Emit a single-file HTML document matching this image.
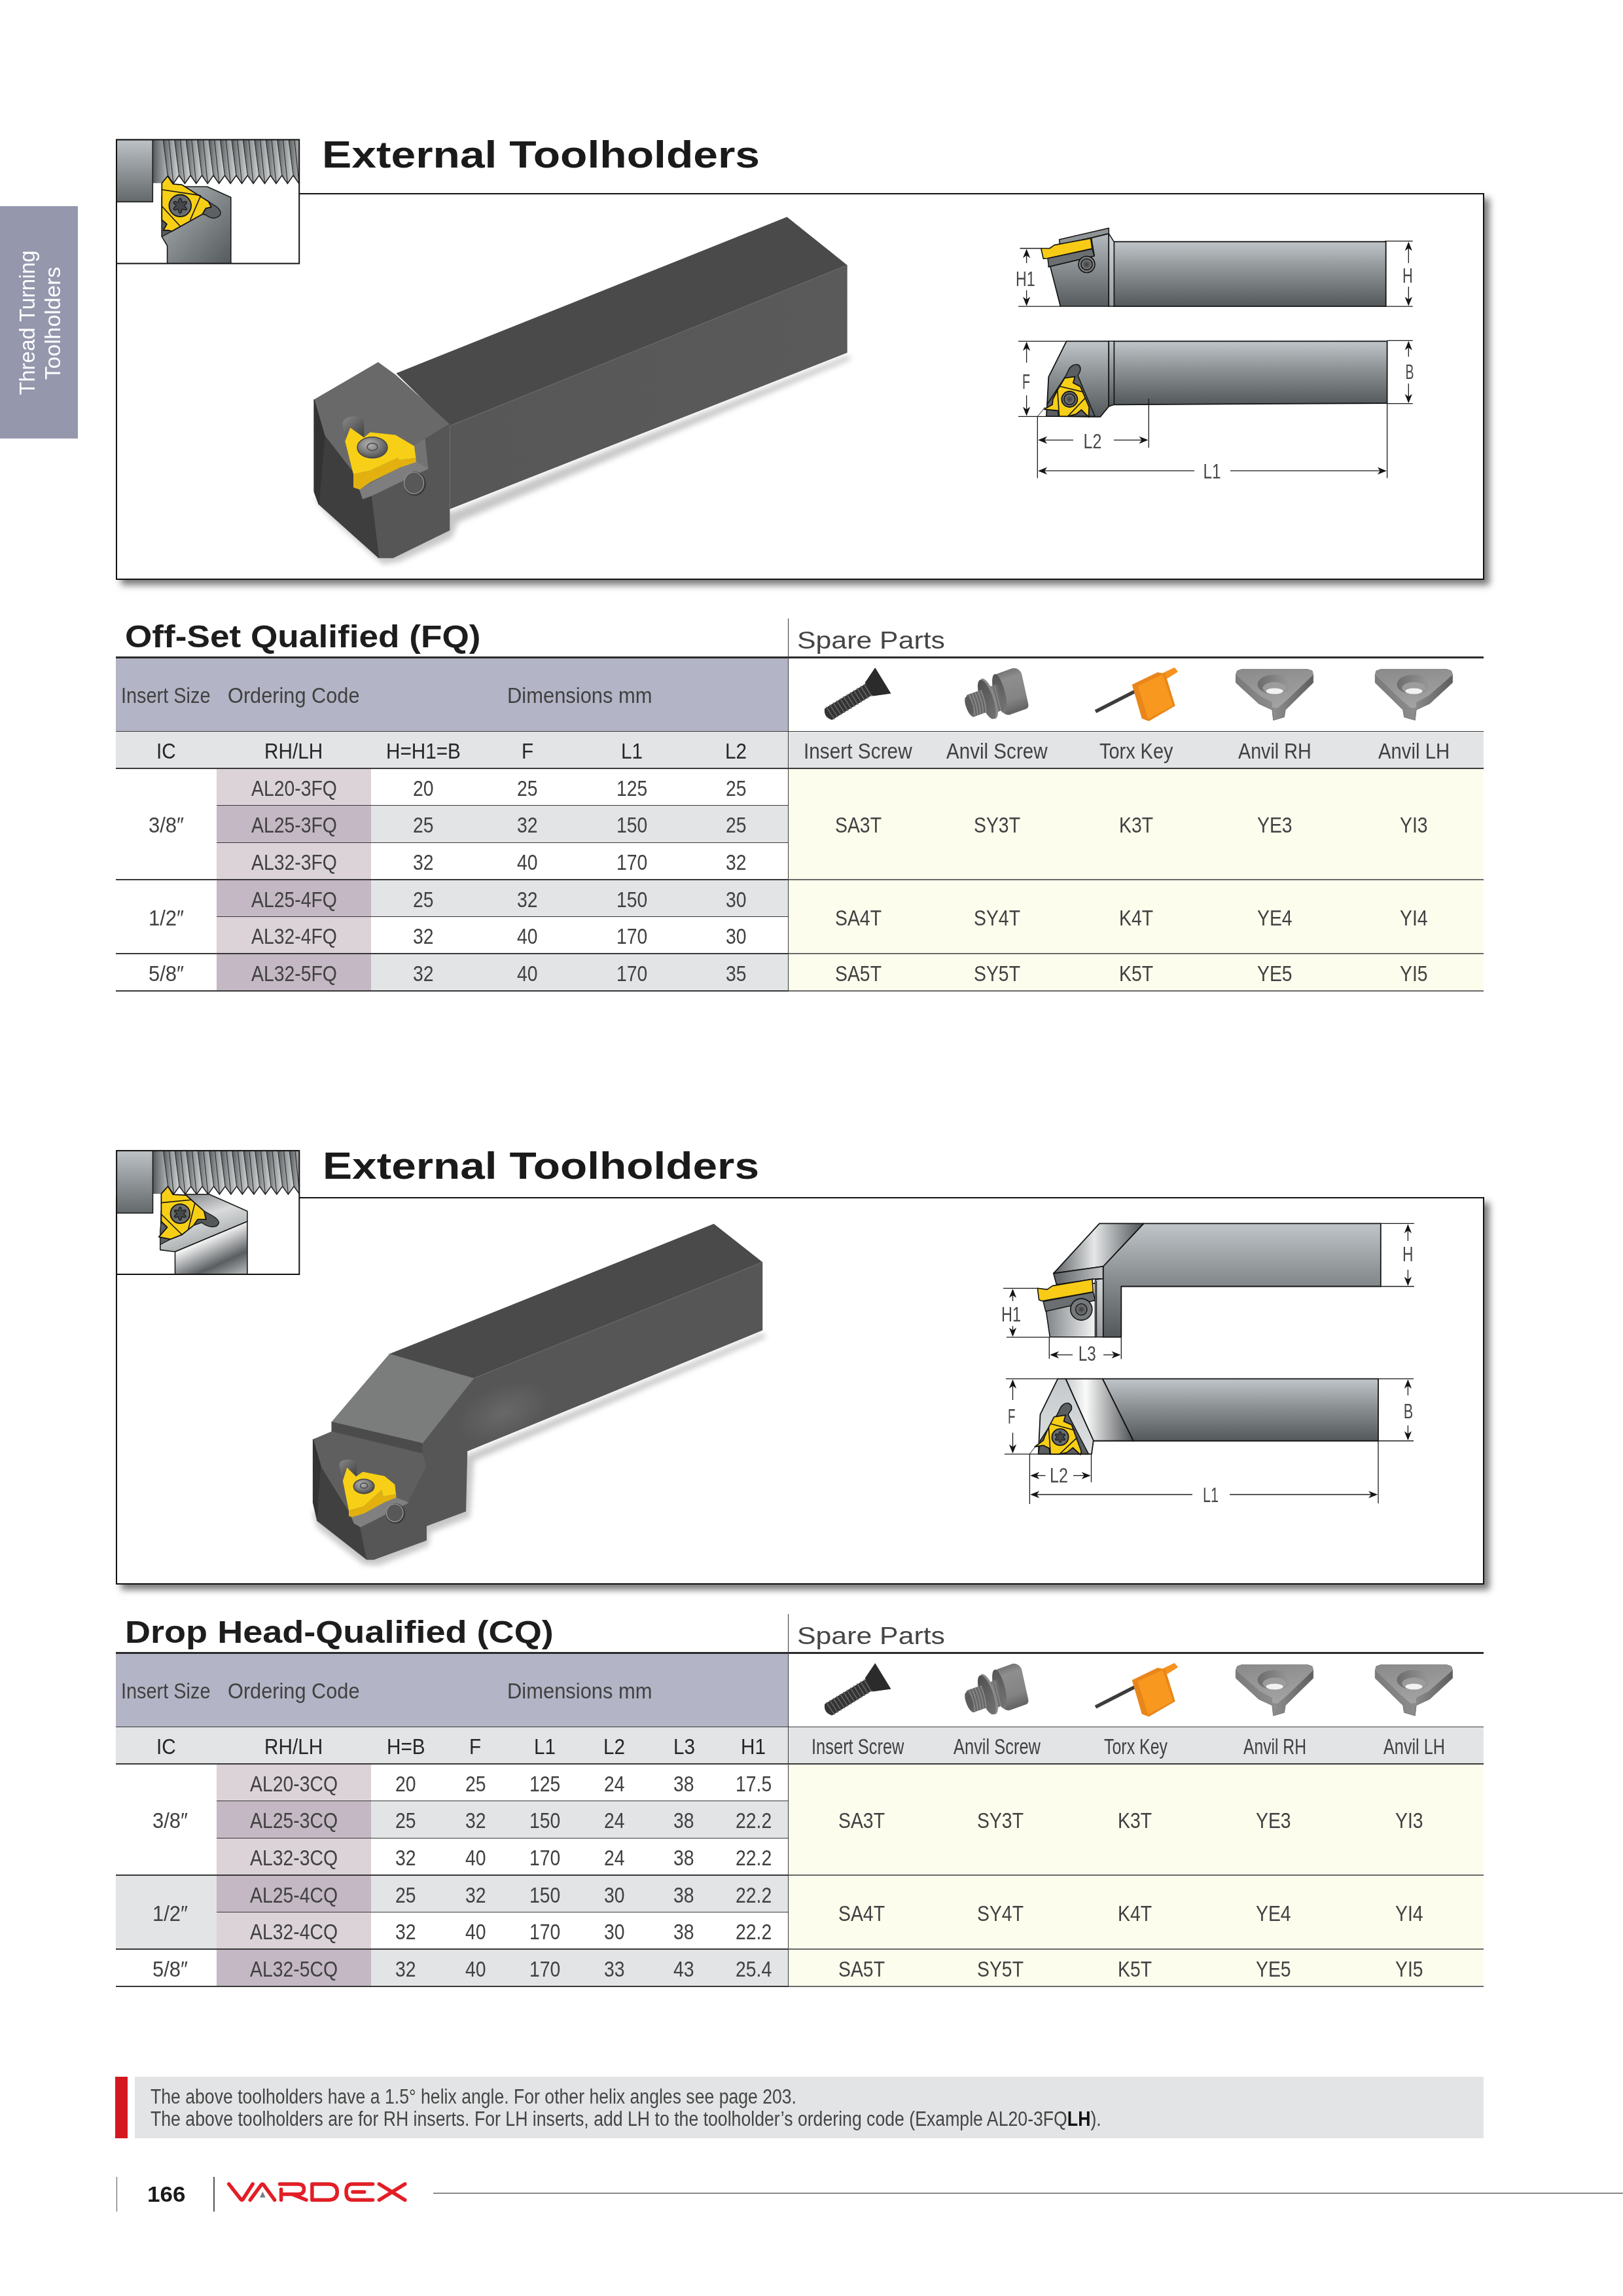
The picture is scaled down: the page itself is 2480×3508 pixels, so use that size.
<!DOCTYPE html>
<html lang="en"><head><meta charset="utf-8"><title>External Toolholders</title><style>
html,body{margin:0;padding:0;background:#fff;}
body{width:2480px;height:3508px;position:relative;overflow:hidden;font-family:"Liberation Sans",sans-serif;}
.t{position:absolute;white-space:nowrap;line-height:1;transform-origin:0 0;}
.r{position:absolute;}
svg{position:absolute;left:0;top:0;overflow:visible;}
#page{position:absolute;left:0;top:0;width:2480px;height:3508px;will-change:transform;}
</style></head><body><div id="page">
<div class="r" style="left:0.0px;top:315.0px;width:119.0px;height:355.0px;background:#9597ad;"></div>
<div class="t" style="left:40.6px;top:493.3px;font-size:33px;color:#fff;transform-origin:50% 50%;transform:translate(-50%,-50%) rotate(-90deg) scaleX(0.9875);">Thread Turning</div>
<div class="t" style="left:80.3px;top:493.8px;font-size:33px;color:#fff;transform-origin:50% 50%;transform:translate(-50%,-50%) rotate(-90deg) scaleX(1.0221);">Toolholders</div>
<div class="r" style="left:177px;top:294.5px;width:2090.5px;height:591.5px;box-sizing:border-box;border:2.2px solid #111;background:#fff;box-shadow:8px 8px 10px 0 rgba(0,0,0,0.52);"></div>
<div class="r" style="left:177px;top:1828.5px;width:2090.5px;height:592.0px;box-sizing:border-box;border:2.2px solid #111;background:#fff;box-shadow:8px 8px 10px 0 rgba(0,0,0,0.52);"></div>
<div class="t" style="left:491.5px;top:207.9px;font-size:57.5px;color:#1a1a1a;font-weight:bold;transform:scaleX(1.1786);">External Toolholders</div>
<div class="t" style="left:492.5px;top:1753.3px;font-size:57.5px;color:#1a1a1a;font-weight:bold;transform:scaleX(1.1750);">External Toolholders</div>
<svg width="2480" height="3508" viewBox="0 0 2480 3508" font-family="Liberation Sans, sans-serif">

<defs>
<linearGradient id="gV" x1="0" y1="0" x2="0" y2="1"><stop offset="0" stop-color="#bfc5c8"/><stop offset="0.45" stop-color="#8c9194"/><stop offset="1" stop-color="#53585b"/></linearGradient>
<linearGradient id="gVh" x1="0" y1="0" x2="0" y2="1"><stop offset="0" stop-color="#b4babd"/><stop offset="1" stop-color="#565b5e"/></linearGradient>
<linearGradient id="gStrip" x1="0" y1="0" x2="0" y2="1"><stop offset="0" stop-color="#d4d8da"/><stop offset="1" stop-color="#989c9f"/></linearGradient>
<linearGradient id="gBlock" x1="0" y1="0" x2="0" y2="1"><stop offset="0" stop-color="#bcc2c5"/><stop offset="1" stop-color="#63686b"/></linearGradient>
<linearGradient id="gHold1" x1="0" y1="0" x2="1" y2="1"><stop offset="0" stop-color="#b3b8bb"/><stop offset="1" stop-color="#54595c"/></linearGradient>
<linearGradient id="gFlA" x1="0" y1="0" x2="1" y2="0"><stop offset="0" stop-color="#55595b"/><stop offset="1" stop-color="#b5b8ba"/></linearGradient>
<linearGradient id="gFlB" x1="0" y1="0" x2="1" y2="0"><stop offset="0" stop-color="#85898b"/><stop offset="1" stop-color="#d5d7d8"/></linearGradient>
<linearGradient id="gMet" x1="0" y1="0" x2="1" y2="0"><stop offset="0" stop-color="#5b5f62"/><stop offset="0.45" stop-color="#e4e6e7"/><stop offset="1" stop-color="#4e5255"/></linearGradient>
<linearGradient id="gMet2" x1="0" y1="0" x2="1" y2="0"><stop offset="0" stop-color="#c9cccd"/><stop offset="0.3" stop-color="#fafafa"/><stop offset="1" stop-color="#4e5255"/></linearGradient>
<linearGradient id="gHeadL" x1="0" y1="0" x2="1" y2="0"><stop offset="0" stop-color="#7e8285"/><stop offset="1" stop-color="#f4f5f5"/></linearGradient>
<linearGradient id="gLip" x1="0" y1="0" x2="1" y2="0"><stop offset="0" stop-color="#5b5f62"/><stop offset="1" stop-color="#c4c7c9"/></linearGradient>
<linearGradient id="gHold2a" x1="0" y1="0" x2="0.5" y2="1"><stop offset="0" stop-color="#6a6e71"/><stop offset="0.5" stop-color="#d9dbdc"/><stop offset="1" stop-color="#9da1a3"/></linearGradient>
<linearGradient id="gHold2b" x1="0.2" y1="0" x2="0.8" y2="1"><stop offset="0" stop-color="#8a8e91"/><stop offset="0.35" stop-color="#f0f1f1"/><stop offset="0.75" stop-color="#5a5e61"/><stop offset="1" stop-color="#a8acae"/></linearGradient>
<linearGradient id="gHeadB" x1="0" y1="0" x2="0" y2="1"><stop offset="0" stop-color="#c4c9cb"/><stop offset="1" stop-color="#dfe1e2"/></linearGradient>
<radialGradient id="gHi" cx="0.5" cy="0.5" r="0.5"><stop offset="0" stop-color="#6a6a6a" stop-opacity="0.9"/><stop offset="1" stop-color="#6a6a6a" stop-opacity="0"/></radialGradient>
<radialGradient id="gScr" cx="0.4" cy="0.35" r="0.7"><stop offset="0" stop-color="#b5b5b5"/><stop offset="1" stop-color="#4a4a4a"/></radialGradient>
<radialGradient id="gHole" cx="0.5" cy="0.5" r="0.5"><stop offset="0" stop-color="#3c3c3c"/><stop offset="1" stop-color="#7a7d7f"/></radialGradient>
<linearGradient id="gSide1" x1="0" y1="0" x2="1" y2="0"><stop offset="0" stop-color="#575757"/><stop offset="1" stop-color="#5a5a5a"/></linearGradient>
<linearGradient id="gAnvTop" x1="0" y1="0" x2="0" y2="1"><stop offset="0" stop-color="#8f8f8f"/><stop offset="1" stop-color="#a3a3a3"/></linearGradient>
<linearGradient id="gCyl" x1="0" y1="0" x2="1" y2="1"><stop offset="0" stop-color="#8a8a8a"/><stop offset="1" stop-color="#3f3f3f"/></linearGradient>
<filter id="blur8" x="-20%" y="-50%" width="140%" height="200%"><feGaussianBlur stdDeviation="7"/></filter>
<filter id="blur5" x="-20%" y="-50%" width="140%" height="200%"><feGaussianBlur stdDeviation="4.5"/></filter>
<filter id="blur3" x="-20%" y="-50%" width="140%" height="200%"><feGaussianBlur stdDeviation="2.5"/></filter>
</defs>

<rect x="178.0" y="213.4" width="279.2" height="189.2" fill="#fff"/>
<clipPath id="clipTh1"><rect x="178.0" y="213.4" width="279.2" height="189.2"/></clipPath><g clip-path="url(#clipTh1)">
<clipPath id="clipT213"><rect x="233.3" y="213.4" width="223.9" height="70.0"/></clipPath>
<g clip-path="url(#clipT213)">
<polygon points="233.3,213.4 249.2,213.4 256.2,268.0 250.2,279.8 233.3,279.8" fill="url(#gFlA)" />
<polygon points="249.2,213.4 257.9,213.4 264.9,280.4 256.2,268.0" fill="url(#gFlA)" />
<polygon points="257.9,213.4 266.6,213.4 273.6,268.0 264.9,280.4" fill="url(#gFlB)" />
<line x1="249.2" y1="213.4" x2="256.2" y2="268.0" stroke="#2a2a2a" stroke-width="1.1"/>
<line x1="257.9" y1="213.4" x2="264.9" y2="280.4" stroke="#2a2a2a" stroke-width="1.1"/>
<polyline points="256.2,268.0 264.9,280.4 273.6,268.0" fill="none" stroke="#1a1a1a" stroke-width="1.5"/>
<polygon points="266.6,213.4 275.4,213.4 282.4,280.4 273.6,268.0" fill="url(#gFlA)" />
<polygon points="275.4,213.4 284.1,213.4 291.1,268.0 282.4,280.4" fill="url(#gFlB)" />
<line x1="266.6" y1="213.4" x2="273.6" y2="268.0" stroke="#2a2a2a" stroke-width="1.1"/>
<line x1="275.4" y1="213.4" x2="282.4" y2="280.4" stroke="#2a2a2a" stroke-width="1.1"/>
<polyline points="273.6,268.0 282.4,280.4 291.1,268.0" fill="none" stroke="#1a1a1a" stroke-width="1.5"/>
<polygon points="284.1,213.4 292.8,213.4 299.8,280.4 291.1,268.0" fill="url(#gFlA)" />
<polygon points="292.8,213.4 301.5,213.4 308.5,268.0 299.8,280.4" fill="url(#gFlB)" />
<line x1="284.1" y1="213.4" x2="291.1" y2="268.0" stroke="#2a2a2a" stroke-width="1.1"/>
<line x1="292.8" y1="213.4" x2="299.8" y2="280.4" stroke="#2a2a2a" stroke-width="1.1"/>
<polyline points="291.1,268.0 299.8,280.4 308.5,268.0" fill="none" stroke="#1a1a1a" stroke-width="1.5"/>
<polygon points="301.5,213.4 310.3,213.4 317.3,280.4 308.5,268.0" fill="url(#gFlA)" />
<polygon points="310.3,213.4 319.0,213.4 326.0,268.0 317.3,280.4" fill="url(#gFlB)" />
<line x1="301.5" y1="213.4" x2="308.5" y2="268.0" stroke="#2a2a2a" stroke-width="1.1"/>
<line x1="310.3" y1="213.4" x2="317.3" y2="280.4" stroke="#2a2a2a" stroke-width="1.1"/>
<polyline points="308.5,268.0 317.3,280.4 326.0,268.0" fill="none" stroke="#1a1a1a" stroke-width="1.5"/>
<polygon points="319.0,213.4 327.7,213.4 334.7,280.4 326.0,268.0" fill="url(#gFlA)" />
<polygon points="327.7,213.4 336.4,213.4 343.4,268.0 334.7,280.4" fill="url(#gFlB)" />
<line x1="319.0" y1="213.4" x2="326.0" y2="268.0" stroke="#2a2a2a" stroke-width="1.1"/>
<line x1="327.7" y1="213.4" x2="334.7" y2="280.4" stroke="#2a2a2a" stroke-width="1.1"/>
<polyline points="326.0,268.0 334.7,280.4 343.4,268.0" fill="none" stroke="#1a1a1a" stroke-width="1.5"/>
<polygon points="336.4,213.4 345.2,213.4 352.2,280.4 343.4,268.0" fill="url(#gFlA)" />
<polygon points="345.2,213.4 353.9,213.4 360.9,268.0 352.2,280.4" fill="url(#gFlB)" />
<line x1="336.4" y1="213.4" x2="343.4" y2="268.0" stroke="#2a2a2a" stroke-width="1.1"/>
<line x1="345.2" y1="213.4" x2="352.2" y2="280.4" stroke="#2a2a2a" stroke-width="1.1"/>
<polyline points="343.4,268.0 352.2,280.4 360.9,268.0" fill="none" stroke="#1a1a1a" stroke-width="1.5"/>
<polygon points="353.9,213.4 362.6,213.4 369.6,280.4 360.9,268.0" fill="url(#gFlA)" />
<polygon points="362.6,213.4 371.3,213.4 378.3,268.0 369.6,280.4" fill="url(#gFlB)" />
<line x1="353.9" y1="213.4" x2="360.9" y2="268.0" stroke="#2a2a2a" stroke-width="1.1"/>
<line x1="362.6" y1="213.4" x2="369.6" y2="280.4" stroke="#2a2a2a" stroke-width="1.1"/>
<polyline points="360.9,268.0 369.6,280.4 378.3,268.0" fill="none" stroke="#1a1a1a" stroke-width="1.5"/>
<polygon points="371.3,213.4 380.1,213.4 387.1,280.4 378.3,268.0" fill="url(#gFlA)" />
<polygon points="380.1,213.4 388.8,213.4 395.8,268.0 387.1,280.4" fill="url(#gFlB)" />
<line x1="371.3" y1="213.4" x2="378.3" y2="268.0" stroke="#2a2a2a" stroke-width="1.1"/>
<line x1="380.1" y1="213.4" x2="387.1" y2="280.4" stroke="#2a2a2a" stroke-width="1.1"/>
<polyline points="378.3,268.0 387.1,280.4 395.8,268.0" fill="none" stroke="#1a1a1a" stroke-width="1.5"/>
<polygon points="388.8,213.4 397.5,213.4 404.5,280.4 395.8,268.0" fill="url(#gFlA)" />
<polygon points="397.5,213.4 406.2,213.4 413.2,268.0 404.5,280.4" fill="url(#gFlB)" />
<line x1="388.8" y1="213.4" x2="395.8" y2="268.0" stroke="#2a2a2a" stroke-width="1.1"/>
<line x1="397.5" y1="213.4" x2="404.5" y2="280.4" stroke="#2a2a2a" stroke-width="1.1"/>
<polyline points="395.8,268.0 404.5,280.4 413.2,268.0" fill="none" stroke="#1a1a1a" stroke-width="1.5"/>
<polygon points="406.2,213.4 415.0,213.4 422.0,280.4 413.2,268.0" fill="url(#gFlA)" />
<polygon points="415.0,213.4 423.7,213.4 430.7,268.0 422.0,280.4" fill="url(#gFlB)" />
<line x1="406.2" y1="213.4" x2="413.2" y2="268.0" stroke="#2a2a2a" stroke-width="1.1"/>
<line x1="415.0" y1="213.4" x2="422.0" y2="280.4" stroke="#2a2a2a" stroke-width="1.1"/>
<polyline points="413.2,268.0 422.0,280.4 430.7,268.0" fill="none" stroke="#1a1a1a" stroke-width="1.5"/>
<polygon points="423.7,213.4 432.4,213.4 439.4,280.4 430.7,268.0" fill="url(#gFlA)" />
<polygon points="432.4,213.4 441.1,213.4 448.1,268.0 439.4,280.4" fill="url(#gFlB)" />
<line x1="423.7" y1="213.4" x2="430.7" y2="268.0" stroke="#2a2a2a" stroke-width="1.1"/>
<line x1="432.4" y1="213.4" x2="439.4" y2="280.4" stroke="#2a2a2a" stroke-width="1.1"/>
<polyline points="430.7,268.0 439.4,280.4 448.1,268.0" fill="none" stroke="#1a1a1a" stroke-width="1.5"/>
<polygon points="441.1,213.4 449.9,213.4 456.9,280.4 448.1,268.0" fill="url(#gFlA)" />
<polygon points="449.9,213.4 458.6,213.4 465.6,268.0 456.9,280.4" fill="url(#gFlB)" />
<line x1="441.1" y1="213.4" x2="448.1" y2="268.0" stroke="#2a2a2a" stroke-width="1.1"/>
<line x1="449.9" y1="213.4" x2="456.9" y2="280.4" stroke="#2a2a2a" stroke-width="1.1"/>
<polyline points="448.1,268.0 456.9,280.4 465.6,268.0" fill="none" stroke="#1a1a1a" stroke-width="1.5"/>
<polygon points="458.6,213.4 467.3,213.4 474.3,280.4 465.6,268.0" fill="url(#gFlA)" />
<polygon points="467.3,213.4 476.0,213.4 483.0,268.0 474.3,280.4" fill="url(#gFlB)" />
<line x1="458.6" y1="213.4" x2="465.6" y2="268.0" stroke="#2a2a2a" stroke-width="1.1"/>
<line x1="467.3" y1="213.4" x2="474.3" y2="280.4" stroke="#2a2a2a" stroke-width="1.1"/>
<polyline points="465.6,268.0 474.3,280.4 483.0,268.0" fill="none" stroke="#1a1a1a" stroke-width="1.5"/>
</g>
<rect x="178" y="213.4" width="55.3" height="95" fill="url(#gBlock)" stroke="#1a1a1a" stroke-width="1.6"/>
<polygon points="278.3,285.2 316.7,285.2 352.8,301.5 352.8,404.0 255.6,404.0 255.6,375.5 247.3,361.7 247.3,300.0" fill="url(#gHold1)" stroke="#1a1a1a" stroke-width="1.6" stroke-linejoin="round" />
<path d="M318.7,308 L331.5,316.3 Q338,322 337,327 Q335,332 327,333.3 Q320,333 314.4,328.2 L309.3,327.2 L314.4,318.3 L322.7,316.3 Z" fill="#5d6163" stroke="#1a1a1a" stroke-width="1.4"/>
<polygon points="247.3,336.0 255.0,342.4 249.7,351.8 257.0,351.8 262.5,353.4 247.3,361.7" fill="#585c5e" stroke="#1a1a1a" stroke-width="1.2" stroke-linejoin="round" />
<polygon points="247.3,279.8 256.2,269.0 264.5,281.2 278.3,282.4 318.7,308.0 322.7,316.3 314.4,318.3 309.3,327.2 262.5,353.4 257.0,351.8 249.7,351.8 255.0,342.4 247.3,336.0" fill="#f8cf17" stroke="#161616" stroke-width="1.8" stroke-linejoin="round" />
<line x1="247.3" y1="289.7" x2="306.4" y2="298.6" stroke="#161616" stroke-width="1.6"/>
<line x1="306.9" y1="298.6" x2="290.5" y2="336.4" stroke="#161616" stroke-width="1.6"/>
<line x1="247.3" y1="315.0" x2="275.9" y2="346.3" stroke="#161616" stroke-width="1.6"/>
<circle cx="275.3" cy="314.3" r="16.8" fill="#6a6d6f" stroke="#161616" stroke-width="1.8"/>
<polygon points="285.3,320.1 283.8,320.8 281.5,320.5 279.4,319.7 278.3,319.5 277.9,320.6 277.6,322.8 276.7,324.9 275.3,325.8 273.9,324.9 273.0,322.8 272.7,320.6 272.3,319.5 271.2,319.7 269.1,320.5 266.8,320.8 265.3,320.1 265.4,318.4 266.8,316.6 268.6,315.2 269.3,314.3 268.6,313.4 266.8,312.0 265.4,310.2 265.3,308.6 266.8,307.8 269.1,308.1 271.2,308.9 272.3,309.1 272.7,308.0 273.0,305.8 273.9,303.7 275.3,302.8 276.7,303.7 277.6,305.8 277.9,308.0 278.3,309.1 279.4,308.9 281.5,308.1 283.8,307.8 285.3,308.6 285.2,310.2 283.8,312.0 282.0,313.4 281.3,314.3 282.0,315.2 283.8,316.6 285.2,318.4" fill="#45484a" stroke="#1c1c1c" stroke-width="1.3" stroke-linejoin="round" />
</g>
<rect x="178.0" y="213.4" width="279.2" height="189.2" fill="none" stroke="#111" stroke-width="2"/>
<rect x="178.1" y="1758.1" width="279.2" height="188.9" fill="#fff"/>
<clipPath id="clipTh2"><rect x="178.1" y="1758.1" width="279.2" height="188.9"/></clipPath><g clip-path="url(#clipTh2)">
<clipPath id="clipT1758"><rect x="233.5" y="1758.1" width="223.8" height="69.7"/></clipPath>
<g clip-path="url(#clipT1758)">
<polygon points="233.5,1758.1 249.6,1758.1 256.6,1812.6 250.6,1824.0 233.5,1824.0" fill="url(#gFlA)" />
<polygon points="249.6,1758.1 258.4,1758.1 265.4,1824.8 256.6,1812.6" fill="url(#gFlA)" />
<polygon points="258.4,1758.1 267.1,1758.1 274.1,1812.6 265.4,1824.8" fill="url(#gFlB)" />
<line x1="249.6" y1="1758.1" x2="256.6" y2="1812.6" stroke="#2a2a2a" stroke-width="1.1"/>
<line x1="258.4" y1="1758.1" x2="265.4" y2="1824.8" stroke="#2a2a2a" stroke-width="1.1"/>
<polyline points="256.6,1812.6 265.4,1824.8 274.1,1812.6" fill="none" stroke="#1a1a1a" stroke-width="1.5"/>
<polygon points="267.1,1758.1 275.9,1758.1 282.9,1824.8 274.1,1812.6" fill="url(#gFlA)" />
<polygon points="275.9,1758.1 284.6,1758.1 291.6,1812.6 282.9,1824.8" fill="url(#gFlB)" />
<line x1="267.1" y1="1758.1" x2="274.1" y2="1812.6" stroke="#2a2a2a" stroke-width="1.1"/>
<line x1="275.9" y1="1758.1" x2="282.9" y2="1824.8" stroke="#2a2a2a" stroke-width="1.1"/>
<polyline points="274.1,1812.6 282.9,1824.8 291.6,1812.6" fill="none" stroke="#1a1a1a" stroke-width="1.5"/>
<polygon points="284.6,1758.1 293.4,1758.1 300.4,1824.8 291.6,1812.6" fill="url(#gFlA)" />
<polygon points="293.4,1758.1 302.1,1758.1 309.1,1812.6 300.4,1824.8" fill="url(#gFlB)" />
<line x1="284.6" y1="1758.1" x2="291.6" y2="1812.6" stroke="#2a2a2a" stroke-width="1.1"/>
<line x1="293.4" y1="1758.1" x2="300.4" y2="1824.8" stroke="#2a2a2a" stroke-width="1.1"/>
<polyline points="291.6,1812.6 300.4,1824.8 309.1,1812.6" fill="none" stroke="#1a1a1a" stroke-width="1.5"/>
<polygon points="302.1,1758.1 310.9,1758.1 317.9,1824.8 309.1,1812.6" fill="url(#gFlA)" />
<polygon points="310.9,1758.1 319.6,1758.1 326.6,1812.6 317.9,1824.8" fill="url(#gFlB)" />
<line x1="302.1" y1="1758.1" x2="309.1" y2="1812.6" stroke="#2a2a2a" stroke-width="1.1"/>
<line x1="310.9" y1="1758.1" x2="317.9" y2="1824.8" stroke="#2a2a2a" stroke-width="1.1"/>
<polyline points="309.1,1812.6 317.9,1824.8 326.6,1812.6" fill="none" stroke="#1a1a1a" stroke-width="1.5"/>
<polygon points="319.6,1758.1 328.4,1758.1 335.4,1824.8 326.6,1812.6" fill="url(#gFlA)" />
<polygon points="328.4,1758.1 337.1,1758.1 344.1,1812.6 335.4,1824.8" fill="url(#gFlB)" />
<line x1="319.6" y1="1758.1" x2="326.6" y2="1812.6" stroke="#2a2a2a" stroke-width="1.1"/>
<line x1="328.4" y1="1758.1" x2="335.4" y2="1824.8" stroke="#2a2a2a" stroke-width="1.1"/>
<polyline points="326.6,1812.6 335.4,1824.8 344.1,1812.6" fill="none" stroke="#1a1a1a" stroke-width="1.5"/>
<polygon points="337.1,1758.1 345.9,1758.1 352.9,1824.8 344.1,1812.6" fill="url(#gFlA)" />
<polygon points="345.9,1758.1 354.6,1758.1 361.6,1812.6 352.9,1824.8" fill="url(#gFlB)" />
<line x1="337.1" y1="1758.1" x2="344.1" y2="1812.6" stroke="#2a2a2a" stroke-width="1.1"/>
<line x1="345.9" y1="1758.1" x2="352.9" y2="1824.8" stroke="#2a2a2a" stroke-width="1.1"/>
<polyline points="344.1,1812.6 352.9,1824.8 361.6,1812.6" fill="none" stroke="#1a1a1a" stroke-width="1.5"/>
<polygon points="354.6,1758.1 363.4,1758.1 370.4,1824.8 361.6,1812.6" fill="url(#gFlA)" />
<polygon points="363.4,1758.1 372.1,1758.1 379.1,1812.6 370.4,1824.8" fill="url(#gFlB)" />
<line x1="354.6" y1="1758.1" x2="361.6" y2="1812.6" stroke="#2a2a2a" stroke-width="1.1"/>
<line x1="363.4" y1="1758.1" x2="370.4" y2="1824.8" stroke="#2a2a2a" stroke-width="1.1"/>
<polyline points="361.6,1812.6 370.4,1824.8 379.1,1812.6" fill="none" stroke="#1a1a1a" stroke-width="1.5"/>
<polygon points="372.1,1758.1 380.9,1758.1 387.9,1824.8 379.1,1812.6" fill="url(#gFlA)" />
<polygon points="380.9,1758.1 389.6,1758.1 396.6,1812.6 387.9,1824.8" fill="url(#gFlB)" />
<line x1="372.1" y1="1758.1" x2="379.1" y2="1812.6" stroke="#2a2a2a" stroke-width="1.1"/>
<line x1="380.9" y1="1758.1" x2="387.9" y2="1824.8" stroke="#2a2a2a" stroke-width="1.1"/>
<polyline points="379.1,1812.6 387.9,1824.8 396.6,1812.6" fill="none" stroke="#1a1a1a" stroke-width="1.5"/>
<polygon points="389.6,1758.1 398.4,1758.1 405.4,1824.8 396.6,1812.6" fill="url(#gFlA)" />
<polygon points="398.4,1758.1 407.1,1758.1 414.1,1812.6 405.4,1824.8" fill="url(#gFlB)" />
<line x1="389.6" y1="1758.1" x2="396.6" y2="1812.6" stroke="#2a2a2a" stroke-width="1.1"/>
<line x1="398.4" y1="1758.1" x2="405.4" y2="1824.8" stroke="#2a2a2a" stroke-width="1.1"/>
<polyline points="396.6,1812.6 405.4,1824.8 414.1,1812.6" fill="none" stroke="#1a1a1a" stroke-width="1.5"/>
<polygon points="407.1,1758.1 415.9,1758.1 422.9,1824.8 414.1,1812.6" fill="url(#gFlA)" />
<polygon points="415.9,1758.1 424.6,1758.1 431.6,1812.6 422.9,1824.8" fill="url(#gFlB)" />
<line x1="407.1" y1="1758.1" x2="414.1" y2="1812.6" stroke="#2a2a2a" stroke-width="1.1"/>
<line x1="415.9" y1="1758.1" x2="422.9" y2="1824.8" stroke="#2a2a2a" stroke-width="1.1"/>
<polyline points="414.1,1812.6 422.9,1824.8 431.6,1812.6" fill="none" stroke="#1a1a1a" stroke-width="1.5"/>
<polygon points="424.6,1758.1 433.4,1758.1 440.4,1824.8 431.6,1812.6" fill="url(#gFlA)" />
<polygon points="433.4,1758.1 442.1,1758.1 449.1,1812.6 440.4,1824.8" fill="url(#gFlB)" />
<line x1="424.6" y1="1758.1" x2="431.6" y2="1812.6" stroke="#2a2a2a" stroke-width="1.1"/>
<line x1="433.4" y1="1758.1" x2="440.4" y2="1824.8" stroke="#2a2a2a" stroke-width="1.1"/>
<polyline points="431.6,1812.6 440.4,1824.8 449.1,1812.6" fill="none" stroke="#1a1a1a" stroke-width="1.5"/>
<polygon points="442.1,1758.1 450.9,1758.1 457.9,1824.8 449.1,1812.6" fill="url(#gFlA)" />
<polygon points="450.9,1758.1 459.6,1758.1 466.6,1812.6 457.9,1824.8" fill="url(#gFlB)" />
<line x1="442.1" y1="1758.1" x2="449.1" y2="1812.6" stroke="#2a2a2a" stroke-width="1.1"/>
<line x1="450.9" y1="1758.1" x2="457.9" y2="1824.8" stroke="#2a2a2a" stroke-width="1.1"/>
<polyline points="449.1,1812.6 457.9,1824.8 466.6,1812.6" fill="none" stroke="#1a1a1a" stroke-width="1.5"/>
<polygon points="459.6,1758.1 468.4,1758.1 475.4,1824.8 466.6,1812.6" fill="url(#gFlA)" />
<polygon points="468.4,1758.1 477.1,1758.1 484.1,1812.6 475.4,1824.8" fill="url(#gFlB)" />
<line x1="459.6" y1="1758.1" x2="466.6" y2="1812.6" stroke="#2a2a2a" stroke-width="1.1"/>
<line x1="468.4" y1="1758.1" x2="475.4" y2="1824.8" stroke="#2a2a2a" stroke-width="1.1"/>
<polyline points="466.6,1812.6 475.4,1824.8 484.1,1812.6" fill="none" stroke="#1a1a1a" stroke-width="1.5"/>
</g>
<rect x="178.1" y="1758.1" width="55.4" height="95.3" fill="url(#gBlock)" stroke="#1a1a1a" stroke-width="1.6"/>
<polygon points="284.2,1824.8 319.7,1824.8 377.9,1850.4 377.9,1866.2 267.5,1912.5 244.8,1909.6 244.8,1901.7 246.4,1850.0" fill="url(#gHold2a)" stroke="#1a1a1a" stroke-width="1.6" stroke-linejoin="round" />
<polygon points="267.5,1912.5 377.9,1866.2 377.9,1950.0 267.5,1950.0" fill="url(#gHold2b)" stroke="#1a1a1a" stroke-width="1.6" stroke-linejoin="round" />
<path d="M311.8,1850.4 L324,1857 Q334,1863 334.5,1868 Q333,1874.5 324,1874.5 Q316,1874 308,1868 L296,1872.1 L302,1863.2 L314.8,1863.2 Z" fill="#55595b" stroke="#1a1a1a" stroke-width="1.4"/>
<polygon points="246.4,1866.2 255.6,1875.1 242.8,1889.8 260.6,1893.4 244.8,1901.7 244.8,1880.0" fill="#5b5f61" stroke="#1a1a1a" stroke-width="1.2" stroke-linejoin="round" />
<polygon points="246.4,1823.8 256.6,1812.6 264.5,1825.2 284.2,1826.0 311.8,1850.4 314.8,1863.2 302.0,1863.2 296.0,1872.1 278.3,1886.3 260.6,1893.4 242.8,1889.8 255.6,1875.1 246.4,1866.2" fill="#f8cf17" stroke="#161616" stroke-width="1.8" stroke-linejoin="round" />
<line x1="246.7" y1="1837.6" x2="291.7" y2="1833.3" stroke="#161616" stroke-width="1.6"/>
<line x1="298.0" y1="1837.6" x2="287.8" y2="1878.0" stroke="#161616" stroke-width="1.6"/>
<line x1="246.4" y1="1855.3" x2="277.9" y2="1886.3" stroke="#161616" stroke-width="1.6"/>
<circle cx="275.3" cy="1854.4" r="14.8" fill="#6a6d6f" stroke="#161616" stroke-width="1.8"/>
<polygon points="284.1,1859.5 282.8,1860.1 280.7,1859.8 278.9,1859.2 277.9,1859.0 277.6,1859.9 277.3,1861.8 276.5,1863.7 275.3,1864.5 274.1,1863.7 273.3,1861.8 273.0,1859.9 272.7,1859.0 271.7,1859.2 269.9,1859.8 267.8,1860.1 266.5,1859.5 266.6,1858.0 267.9,1856.4 269.4,1855.2 270.0,1854.4 269.4,1853.6 267.9,1852.4 266.6,1850.8 266.5,1849.3 267.8,1848.7 269.9,1849.0 271.7,1849.6 272.7,1849.8 273.0,1848.9 273.3,1847.0 274.1,1845.1 275.3,1844.3 276.5,1845.1 277.3,1847.0 277.6,1848.9 277.9,1849.8 278.9,1849.6 280.7,1849.0 282.8,1848.7 284.1,1849.3 284.0,1850.8 282.7,1852.4 281.2,1853.6 280.6,1854.4 281.2,1855.2 282.7,1856.4 284.0,1858.0" fill="#45484a" stroke="#1c1c1c" stroke-width="1.3" stroke-linejoin="round" />
</g>
<rect x="178.1" y="1758.1" width="279.2" height="188.9" fill="none" stroke="#111" stroke-width="2"/>
<polygon points="690.0,782.0 1296.0,543.0 1300.0,549.0 700.0,798.0 690.0,822.0 610.0,858.0 585.0,862.0 500.0,786.0 480.0,760.0" fill="#7a7a7a" filter="url(#blur5)" opacity="0.42"/>
<polygon points="606.4,570.6 1202.5,332.2 1294.0,405.4 687.9,650.5" fill="#4a4a4a" stroke="#4a4a4a" stroke-width="1.3" stroke-linejoin="round" />
<polygon points="687.9,650.5 1294.0,405.4 1294.0,538.5 687.9,776.9" fill="url(#gSide1)" stroke="#565656" stroke-width="1.3" stroke-linejoin="round" />
<line x1="687.9" y1="650.5" x2="1294.0" y2="405.4" stroke="#676767" stroke-width="1.5"/>
<polygon points="480.0,611.0 577.8,554.0 604.0,573.0 686.7,648.5 649.0,671.0 653.8,716.0 567.0,757.5 496.0,666.0" fill="#696969" stroke="#696969" stroke-width="1.3" stroke-linejoin="round" />
<polygon points="686.7,648.5 686.7,810.0 601.0,852.0 578.5,852.0 567.0,757.5 653.8,716.0 649.0,671.0" fill="#565656" stroke="#565656" stroke-width="1.3" stroke-linejoin="round" />
<polygon points="496.0,666.0 567.0,757.5 578.5,852.0 487.0,770.0" fill="#3e3e3e" stroke="#3e3e3e" stroke-width="1.3" stroke-linejoin="round" />
<polygon points="480.0,611.0 496.0,666.0 487.0,770.0 480.0,751.0" fill="#333" stroke="#333" stroke-width="1.3" stroke-linejoin="round" />
<polygon points="632.0,682.0 649.0,671.0 653.8,716.0 636.5,707.0" fill="#737373" stroke="#737373" stroke-width="1.3" stroke-linejoin="round" />
<path d="M523.3,648 Q524,638 538,636.5 Q555,635 556,645 L556.5,668 L535.3,653.4 L527.5,668 Z" fill="url(#gCyl)"/>
<polygon points="549.7,747.9 611.4,714.2 636.2,706.2 653.8,716.0 567.0,757.5 554.5,762.0" fill="#7e7e7e" stroke="#7e7e7e" stroke-width="1.3" stroke-linejoin="round" />
<polygon points="540.0,724.6 565.7,719.0 607.4,699.8 610.6,703.0 635.4,699.8 636.0,706.0 611.4,714.2 565.7,736.7 549.7,747.9 540.0,744.7" fill="#e2b10f" />
<polygon points="535.3,653.4 556.0,668.6 565.7,660.6 604.2,664.6 633.0,681.4 635.4,699.8 610.6,703.0 607.4,699.8 565.7,719.0 540.0,724.6 527.3,674.2" fill="#f7cf16" />
<ellipse cx="569.0" cy="683.8" rx="23.0" ry="16.0" fill="url(#gScr)" stroke="#444" stroke-width="1.5"/>
<ellipse cx="569.0" cy="682.8" rx="8.0" ry="5.6" fill="none" stroke="#555" stroke-width="2"/>
<ellipse cx="633.8" cy="739" rx="17" ry="18.5" fill="#3a3a3a"/>
<ellipse cx="632.5" cy="738" rx="15" ry="16.5" fill="#585858" stroke="#9a9a9a" stroke-width="1.2"/>
<polygon points="716.0,2222.0 1166.0,2037.0 1171.0,2043.0 724.0,2232.0 718.0,2318.0 657.0,2342.0 655.0,2362.0 578.0,2392.0 555.0,2390.0 485.0,2334.0 478.0,2310.0" fill="#7a7a7a" filter="url(#blur5)" opacity="0.42"/>
<polygon points="595.3,2069.2 1090.6,1870.6 1164.6,1928.7 723.4,2106.2" fill="#4a4a4a" stroke="#4a4a4a" stroke-width="1.3" stroke-linejoin="round" />
<polygon points="723.4,2106.2 1164.6,1928.7 1164.6,2032.2 713.6,2217.0 711.4,2308.8 652.2,2331.0 651.3,2242.2 644.8,2221.0 644.8,2205.3" fill="#565656" stroke="#565656" stroke-width="1.3" stroke-linejoin="round" />
<line x1="723.4" y1="2106.2" x2="1164.6" y2="1928.7" stroke="#666" stroke-width="1.4"/>
<clipPath id="clipS2"><polygon points="723.4,2106.2 1164.6,1928.7 1164.6,2032.2 713.6,2217 644.8,2205.3"/></clipPath><g clip-path="url(#clipS2)"><ellipse cx="770" cy="2158" rx="75" ry="42" fill="url(#gHi)" transform="rotate(-22 770 2158)"/></g>
<polygon points="595.3,2069.2 723.4,2106.2 644.8,2205.3 507.1,2172.9" fill="#7b7c7c" stroke="#7b7c7c" stroke-width="1.3" stroke-linejoin="round" />
<polygon points="507.1,2172.9 644.8,2205.3 644.8,2221.0 507.1,2187.7" fill="#4b4b4b" stroke="#4b4b4b" stroke-width="1.3" stroke-linejoin="round" />
<polygon points="478.5,2199.7 507.1,2187.7 644.8,2221.0 651.3,2242.2 623.6,2295.8 550.6,2332.8 543.2,2327.3 490.5,2242.2" fill="#5f5f5f" stroke="#5f5f5f" stroke-width="1.3" stroke-linejoin="round" />
<polygon points="478.5,2199.7 490.5,2242.2 485.0,2323.6 478.5,2295.8" fill="#333" stroke="#333" stroke-width="1.3" stroke-linejoin="round" />
<polygon points="490.5,2242.2 543.2,2327.3 550.6,2332.8 560.7,2382.7 485.0,2323.6" fill="#404040" stroke="#404040" stroke-width="1.3" stroke-linejoin="round" />
<polygon points="550.6,2332.8 623.6,2295.8 651.3,2242.2 651.3,2353.1 570.9,2382.7 560.7,2382.7" fill="#565656" stroke="#565656" stroke-width="1.3" stroke-linejoin="round" />
<path d="M518.5,2238 Q519,2231 529,2230 Q543,2229 545,2237 L545,2256 L530.2,2242.2 L522,2256 Z" fill="url(#gCyl)"/>
<polygon points="537.6,2318.0 586.6,2295.8 604.2,2288.4 623.6,2295.8 550.6,2332.8 541.3,2327.3" fill="#808080" stroke="#808080" stroke-width="1.3" stroke-linejoin="round" />
<polygon points="533.0,2307.9 556.1,2301.4 583.0,2276.4 585.7,2286.6 605.1,2282.9 605.5,2288.0 586.6,2295.8 556.1,2312.5 537.6,2318.0 533.0,2316.2" fill="#e2b10f" />
<polygon points="530.2,2242.2 544.1,2256.1 554.3,2248.7 587.5,2255.2 603.3,2268.1 605.1,2282.9 585.7,2286.6 583.0,2276.4 556.1,2301.4 533.0,2307.9 523.8,2262.6" fill="#f7cf16" />
<ellipse cx="556.1" cy="2270.9" rx="15.7" ry="11.0" fill="url(#gScr)" stroke="#444" stroke-width="1.5"/>
<ellipse cx="556.1" cy="2269.9" rx="5.5" ry="3.8" fill="none" stroke="#555" stroke-width="2"/>
<ellipse cx="604.2" cy="2312.5" rx="14.8" ry="15.5" fill="#3a3a3a"/>
<ellipse cx="603.2" cy="2311.5" rx="12.8" ry="13.5" fill="#585858" stroke="#a5a5a5" stroke-width="1.2"/>
<rect x="1702.3" y="369.3" width="415.4" height="98.7" fill="url(#gV)" stroke="#141414" stroke-width="1.8"/>
<polygon points="1604.7,406.7 1620.4,468.0 1694.3,468.0 1694.3,356.8 1667.5,363.3 1672.2,391.0 1601.9,407.6" fill="url(#gVh)" stroke="#141414" stroke-width="1.7" stroke-linejoin="round" />
<polygon points="1694.3,356.8 1702.3,369.7 1702.3,468.0 1694.3,468.0" fill="url(#gStrip)" stroke="#141414" stroke-width="1.5" stroke-linejoin="round" />
<polygon points="1618.6,366.0 1694.3,348.5 1694.3,356.8 1667.5,363.3 1619.3,373.6" fill="#8e9395" stroke="#141414" stroke-width="1.5" stroke-linejoin="round" />
<polygon points="1590.8,379.5 1603.8,379.5 1611.2,374.4 1666.6,364.2 1668.8,379.9 1601.0,394.7 1594.2,395.1" fill="#f7cb16" stroke="#141414" stroke-width="1.6" stroke-linejoin="round" />
<polygon points="1601.0,394.7 1668.8,380.3 1672.2,391.0 1602.5,407.6" fill="#6b6f71" stroke="#141414" stroke-width="1.5" stroke-linejoin="round" />
<circle cx="1660.5" cy="404" r="12.5" fill="#7d8183" stroke="#141414" stroke-width="1.6"/>
<circle cx="1660.5" cy="404" r="8.6" fill="url(#gHole)" stroke="#141414" stroke-width="1.5"/>
<line x1="1558.5" y1="379.5" x2="1591.0" y2="379.5" stroke="#1a1a1a" stroke-width="1.3"/>
<line x1="1556.0" y1="468.2" x2="1621.0" y2="468.2" stroke="#1a1a1a" stroke-width="1.3"/>
<polygon points="1568.6,380.3 1574.2,394.3 1568.6,390.3 1563.0,394.3" fill="#141414" />
<polygon points="1568.6,467.4 1563.0,453.4 1568.6,457.4 1574.2,453.4" fill="#141414" />
<line x1="1568.6" y1="387.5" x2="1568.6" y2="402.0" stroke="#1a1a1a" stroke-width="1.3"/>
<line x1="1568.6" y1="443.5" x2="1568.6" y2="460.2" stroke="#1a1a1a" stroke-width="1.3"/>
<text x="1552.0" y="436.5" font-size="31" fill="#484848" text-anchor="start" textLength="29.6" lengthAdjust="spacingAndGlyphs">H1</text>
<line x1="2116.0" y1="368.4" x2="2158.8" y2="368.4" stroke="#1a1a1a" stroke-width="1.3"/>
<line x1="2116.0" y1="468.2" x2="2158.8" y2="468.2" stroke="#1a1a1a" stroke-width="1.3"/>
<polygon points="2152.3,369.2 2157.9,383.2 2152.3,379.2 2146.7,383.2" fill="#141414" />
<polygon points="2152.3,467.4 2146.7,453.4 2152.3,457.4 2157.9,453.4" fill="#141414" />
<line x1="2152.3" y1="376.4" x2="2152.3" y2="402.0" stroke="#1a1a1a" stroke-width="1.3"/>
<line x1="2152.3" y1="438.0" x2="2152.3" y2="460.2" stroke="#1a1a1a" stroke-width="1.3"/>
<text x="2143.0" y="431.5" font-size="31" fill="#484848" text-anchor="start" textLength="15.8" lengthAdjust="spacingAndGlyphs">H</text>
<polygon points="1702.3,521.3 2119.6,521.3 2119.6,616.0 1702.3,618.3" fill="url(#gV)" stroke="#141414" stroke-width="1.8" stroke-linejoin="round" />
<polygon points="1629.6,521.3 1694.3,521.3 1694.3,621.0 1681.4,636.8 1599.1,635.9 1602.3,575.8" fill="url(#gV)" stroke="#141414" stroke-width="1.8" stroke-linejoin="round" />
<polygon points="1694.3,521.3 1702.3,521.3 1702.3,618.3 1694.3,621.0" fill="url(#gV)" stroke="#141414" stroke-width="1.5" stroke-linejoin="round" />
<path d="M1600,618 L1628.7,574 L1634,563 Q1640,555 1648,557.5 Q1652.5,561 1650,568 L1647,574 L1673,635.9 L1599.1,635.9 Z" fill="#5b5f62" stroke="#141414" stroke-width="1.5"/>
<polygon points="1626.9,577.6 1642.6,575.4 1639.8,585.0 1650.9,590.6 1664.2,622.0 1663.5,637.2 1652.4,626.1 1644.4,632.7 1632.4,636.2 1617.6,636.2 1616.7,627.5 1595.5,625.3 1608.0,618.3 1608.8,610.0 1615.8,596.1" fill="#f8cf17" stroke="#161616" stroke-width="1.8" stroke-linejoin="round" />
<line x1="1619.5" y1="590.2" x2="1655.0" y2="598.9" stroke="#161616" stroke-width="1.6"/>
<line x1="1658.3" y1="608.1" x2="1631.9" y2="635.9" stroke="#161616" stroke-width="1.6"/>
<line x1="1615.8" y1="595.2" x2="1618.6" y2="636.2" stroke="#161616" stroke-width="1.6"/>
<circle cx="1634.3" cy="610.0" r="12.0" fill="#6a6d6f" stroke="#161616" stroke-width="1.8"/>
<circle cx="1634.3" cy="610.0" r="8.3" fill="url(#gHole)" stroke="#161616" stroke-width="1.6"/>
<line x1="1585.3" y1="636.4" x2="1597.0" y2="622.0" stroke="#222" stroke-width="1"/>
<line x1="1556.0" y1="521.3" x2="1629.6" y2="521.3" stroke="#1a1a1a" stroke-width="1.3"/>
<line x1="1556.0" y1="636.4" x2="1600.0" y2="636.4" stroke="#1a1a1a" stroke-width="1.3"/>
<polygon points="1568.6,522.1 1574.2,536.1 1568.6,532.1 1563.0,536.1" fill="#141414" />
<polygon points="1568.6,635.6 1563.0,621.6 1568.6,625.6 1574.2,621.6" fill="#141414" />
<line x1="1568.6" y1="529.3" x2="1568.6" y2="554.0" stroke="#1a1a1a" stroke-width="1.3"/>
<line x1="1568.6" y1="604.0" x2="1568.6" y2="628.4" stroke="#1a1a1a" stroke-width="1.3"/>
<text x="1562.0" y="593.5" font-size="31" fill="#484848" text-anchor="start" textLength="12.0" lengthAdjust="spacingAndGlyphs">F</text>
<line x1="1585.3" y1="636.4" x2="1585.3" y2="730.5" stroke="#1a1a1a" stroke-width="1.3"/>
<line x1="1755.3" y1="609.0" x2="1755.3" y2="684.0" stroke="#1a1a1a" stroke-width="1.3"/>
<polygon points="1586.1,672.3 1600.1,666.7 1596.1,672.3 1600.1,677.9" fill="#141414" />
<polygon points="1754.5,672.3 1740.5,677.9 1744.5,672.3 1740.5,666.7" fill="#141414" />
<line x1="1593.3" y1="672.3" x2="1640.0" y2="672.3" stroke="#1a1a1a" stroke-width="1.3"/>
<line x1="1702.0" y1="672.3" x2="1747.3" y2="672.3" stroke="#1a1a1a" stroke-width="1.3"/>
<text x="1655.5" y="684.8" font-size="31" fill="#484848" text-anchor="start" textLength="27.8" lengthAdjust="spacingAndGlyphs">L2</text>
<line x1="2119.6" y1="616.7" x2="2119.6" y2="730.5" stroke="#1a1a1a" stroke-width="1.3"/>
<polygon points="1586.1,719.4 1600.1,713.8 1596.1,719.4 1600.1,725.0" fill="#141414" />
<polygon points="2118.8,719.4 2104.8,725.0 2108.8,719.4 2104.8,713.8" fill="#141414" />
<line x1="1593.3" y1="719.4" x2="1825.0" y2="719.4" stroke="#1a1a1a" stroke-width="1.3"/>
<line x1="1880.0" y1="719.4" x2="2111.6" y2="719.4" stroke="#1a1a1a" stroke-width="1.3"/>
<text x="1838.5" y="730.5" font-size="31" fill="#484848" text-anchor="start" textLength="27.0" lengthAdjust="spacingAndGlyphs">L1</text>
<line x1="2119.6" y1="520.3" x2="2158.8" y2="520.3" stroke="#1a1a1a" stroke-width="1.3"/>
<line x1="2119.6" y1="616.7" x2="2158.8" y2="616.7" stroke="#1a1a1a" stroke-width="1.3"/>
<polygon points="2152.3,521.1 2157.9,535.1 2152.3,531.1 2146.7,535.1" fill="#141414" />
<polygon points="2152.3,615.9 2146.7,601.9 2152.3,605.9 2157.9,601.9" fill="#141414" />
<line x1="2152.3" y1="528.3" x2="2152.3" y2="545.0" stroke="#1a1a1a" stroke-width="1.3"/>
<line x1="2152.3" y1="586.0" x2="2152.3" y2="608.7" stroke="#1a1a1a" stroke-width="1.3"/>
<text x="2147.5" y="578.5" font-size="31" fill="#484848" text-anchor="start" textLength="13.0" lengthAdjust="spacingAndGlyphs">B</text>
<polygon points="1747.5,1869.4 2109.8,1869.4 2109.8,1965.5 1713.3,1965.5 1713.3,2042.8 1685.6,2042.8 1685.6,1935.0" fill="url(#gV)" stroke="#141414" stroke-width="1.8" stroke-linejoin="round" />
<polygon points="1680.0,1869.4 1747.5,1869.4 1685.6,1935.0 1609.8,1945.6" fill="url(#gMet)" stroke="#141414" stroke-width="1.8" stroke-linejoin="round" />
<polygon points="1596.9,1992.3 1604.3,2042.8 1673.6,2042.8 1673.6,1960.0" fill="url(#gHeadL)" stroke="#141414" stroke-width="1.6" stroke-linejoin="round" />
<polygon points="1673.6,1955.4 1685.6,1953.5 1685.6,2042.8 1673.6,2042.8" fill="url(#gStrip)" stroke="#141414" stroke-width="1.4" stroke-linejoin="round" />
<line x1="1675.6" y1="1957.0" x2="1675.6" y2="2042.8" stroke="#141414" stroke-width="1.2"/>
<polygon points="1609.8,1945.6 1685.6,1935.0 1685.6,1953.5 1669.0,1954.4 1614.4,1962.8" fill="url(#gLip)" stroke="#141414" stroke-width="1.6" stroke-linejoin="round" />
<polygon points="1585.4,1968.3 1600.2,1970.1 1608.0,1964.6 1669.0,1954.4 1670.4,1973.8 1592.3,1987.7 1587.6,1985.9" fill="#f7cb16" stroke="#141414" stroke-width="1.6" stroke-linejoin="round" />
<polygon points="1594.1,1988.6 1670.4,1974.2 1673.6,1986.8 1597.8,2003.4" fill="#6b6f71" stroke="#141414" stroke-width="1.5" stroke-linejoin="round" />
<circle cx="1652.3" cy="2000.6" r="16.5" fill="#74787a" stroke="#141414" stroke-width="1.6"/>
<circle cx="1652.3" cy="2000.6" r="8.6" fill="url(#gHole)" stroke="#141414" stroke-width="1.5"/>
<line x1="1533.0" y1="1968.3" x2="1585.4" y2="1968.3" stroke="#1a1a1a" stroke-width="1.3"/>
<line x1="1538.0" y1="2043.2" x2="1604.3" y2="2043.2" stroke="#1a1a1a" stroke-width="1.3"/>
<polygon points="1547.5,1969.1 1553.1,1983.1 1547.5,1979.1 1541.9,1983.1" fill="#141414" />
<polygon points="1547.5,2042.4 1541.9,2028.4 1547.5,2032.4 1553.1,2028.4" fill="#141414" />
<line x1="1547.5" y1="1976.3" x2="1547.5" y2="1988.0" stroke="#1a1a1a" stroke-width="1.3"/>
<line x1="1547.5" y1="2026.0" x2="1547.5" y2="2035.2" stroke="#1a1a1a" stroke-width="1.3"/>
<text x="1530.0" y="2019.2" font-size="31" fill="#484848" text-anchor="start" textLength="30.0" lengthAdjust="spacingAndGlyphs">H1</text>
<line x1="1603.3" y1="2043.0" x2="1603.3" y2="2076.0" stroke="#1a1a1a" stroke-width="1.3"/>
<line x1="1713.3" y1="2043.0" x2="1713.3" y2="2076.5" stroke="#1a1a1a" stroke-width="1.3"/>
<polygon points="1604.1,2070.0 1618.1,2064.4 1614.1,2070.0 1618.1,2075.6" fill="#141414" />
<polygon points="1712.5,2070.0 1698.5,2075.6 1702.5,2070.0 1698.5,2064.4" fill="#141414" />
<line x1="1611.3" y1="2070.0" x2="1639.0" y2="2070.0" stroke="#1a1a1a" stroke-width="1.3"/>
<line x1="1686.0" y1="2070.0" x2="1705.3" y2="2070.0" stroke="#1a1a1a" stroke-width="1.3"/>
<text x="1647.7" y="2079.3" font-size="31" fill="#484848" text-anchor="start" textLength="27.0" lengthAdjust="spacingAndGlyphs">L3</text>
<line x1="2109.8" y1="1869.4" x2="2160.8" y2="1869.4" stroke="#1a1a1a" stroke-width="1.3"/>
<line x1="2109.8" y1="1965.5" x2="2160.8" y2="1965.5" stroke="#1a1a1a" stroke-width="1.3"/>
<polygon points="2151.4,1870.2 2157.0,1884.2 2151.4,1880.2 2145.8,1884.2" fill="#141414" />
<polygon points="2151.4,1964.7 2145.8,1950.7 2151.4,1954.7 2157.0,1950.7" fill="#141414" />
<line x1="2151.4" y1="1877.4" x2="2151.4" y2="1896.0" stroke="#1a1a1a" stroke-width="1.3"/>
<line x1="2151.4" y1="1940.0" x2="2151.4" y2="1957.5" stroke="#1a1a1a" stroke-width="1.3"/>
<text x="2143.0" y="1927.3" font-size="31" fill="#484848" text-anchor="start" textLength="16.5" lengthAdjust="spacingAndGlyphs">H</text>
<polygon points="1684.7,2106.6 2106.0,2106.6 2106.0,2201.5 1731.8,2201.5" fill="url(#gV)" stroke="#141414" stroke-width="1.8" stroke-linejoin="round" />
<polygon points="1628.3,2106.6 1684.7,2106.6 1731.8,2201.5 1670.8,2201.5" fill="url(#gMet2)" stroke="#141414" stroke-width="1.8" stroke-linejoin="round" />
<polygon points="1616.3,2106.6 1628.3,2106.6 1670.8,2201.0 1668.0,2221.6 1586.7,2221.6 1589.5,2161.2" fill="url(#gHeadB)" stroke="#141414" stroke-width="1.8" stroke-linejoin="round" />
<path d="M1589.5,2200.9 L1615.4,2161.2 L1621,2150 Q1626,2142.5 1633,2144 Q1639,2147 1637,2154 L1632,2161.2 L1663.4,2221.6 L1586.7,2221.6 Z" fill="#5b5f62" stroke="#141414" stroke-width="1.5"/>
<polygon points="1610.7,2164.9 1628.3,2162.1 1625.5,2171.7 1637.5,2176.9 1652.3,2217.5 1650.9,2222.7 1639.4,2212.0 1630.1,2219.4 1619.1,2221.6 1604.3,2221.6 1603.3,2212.9 1594.1,2208.3 1581.2,2210.5 1594.1,2200.9 1596.0,2195.4 1602.4,2180.6" fill="#f8cf17" stroke="#161616" stroke-width="1.8" stroke-linejoin="round" />
<line x1="1606.1" y1="2175.4" x2="1642.2" y2="2185.2" stroke="#161616" stroke-width="1.6"/>
<line x1="1645.9" y1="2196.3" x2="1619.1" y2="2221.6" stroke="#161616" stroke-width="1.6"/>
<line x1="1602.4" y1="2180.6" x2="1605.2" y2="2221.6" stroke="#161616" stroke-width="1.6"/>
<circle cx="1620.0" cy="2195.7" r="12.6" fill="#6a6d6f" stroke="#161616" stroke-width="1.8"/>
<polygon points="1627.3,2199.9 1626.2,2200.5 1624.6,2200.3 1623.0,2199.7 1622.2,2199.5 1621.9,2200.3 1621.7,2201.9 1621.0,2203.5 1620.0,2204.2 1619.0,2203.5 1618.3,2201.9 1618.1,2200.3 1617.8,2199.5 1617.0,2199.7 1615.4,2200.3 1613.8,2200.5 1612.7,2199.9 1612.7,2198.7 1613.8,2197.4 1615.0,2196.4 1615.6,2195.7 1615.0,2195.0 1613.8,2194.0 1612.7,2192.7 1612.7,2191.5 1613.8,2190.9 1615.4,2191.1 1617.0,2191.7 1617.8,2191.9 1618.1,2191.1 1618.3,2189.5 1619.0,2187.9 1620.0,2187.2 1621.0,2187.9 1621.7,2189.5 1621.9,2191.1 1622.2,2191.9 1623.0,2191.7 1624.6,2191.1 1626.2,2190.9 1627.3,2191.5 1627.3,2192.7 1626.2,2194.0 1625.0,2195.0 1624.4,2195.7 1625.0,2196.4 1626.2,2197.4 1627.3,2198.7" fill="#45484a" stroke="#1c1c1c" stroke-width="1.3" stroke-linejoin="round" />
<line x1="1573.4" y1="2221.6" x2="1583.0" y2="2209.0" stroke="#222" stroke-width="1"/>
<line x1="1537.0" y1="2106.6" x2="1616.3" y2="2106.6" stroke="#1a1a1a" stroke-width="1.3"/>
<line x1="1535.0" y1="2221.6" x2="1587.0" y2="2221.6" stroke="#1a1a1a" stroke-width="1.3"/>
<polygon points="1547.5,2107.4 1553.1,2121.4 1547.5,2117.4 1541.9,2121.4" fill="#141414" />
<polygon points="1547.5,2220.8 1541.9,2206.8 1547.5,2210.8 1553.1,2206.8" fill="#141414" />
<line x1="1547.5" y1="2114.6" x2="1547.5" y2="2139.0" stroke="#1a1a1a" stroke-width="1.3"/>
<line x1="1547.5" y1="2189.0" x2="1547.5" y2="2213.6" stroke="#1a1a1a" stroke-width="1.3"/>
<text x="1540.0" y="2175.4" font-size="31" fill="#484848" text-anchor="start" textLength="11.5" lengthAdjust="spacingAndGlyphs">F</text>
<line x1="1573.4" y1="2221.6" x2="1573.4" y2="2298.0" stroke="#1a1a1a" stroke-width="1.3"/>
<line x1="1667.5" y1="2221.6" x2="1667.5" y2="2264.7" stroke="#1a1a1a" stroke-width="1.3"/>
<polygon points="1574.2,2254.5 1588.2,2248.9 1584.2,2254.5 1588.2,2260.1" fill="#141414" />
<polygon points="1666.7,2254.5 1652.7,2260.1 1656.7,2254.5 1652.7,2248.9" fill="#141414" />
<line x1="1581.4" y1="2254.5" x2="1597.5" y2="2254.5" stroke="#1a1a1a" stroke-width="1.3"/>
<line x1="1640.0" y1="2254.5" x2="1659.5" y2="2254.5" stroke="#1a1a1a" stroke-width="1.3"/>
<text x="1603.9" y="2264.7" font-size="31" fill="#484848" text-anchor="start" textLength="28.0" lengthAdjust="spacingAndGlyphs">L2</text>
<line x1="2106.0" y1="2201.5" x2="2106.0" y2="2297.0" stroke="#1a1a1a" stroke-width="1.3"/>
<polygon points="1574.2,2283.5 1588.2,2277.9 1584.2,2283.5 1588.2,2289.1" fill="#141414" />
<polygon points="2105.2,2283.5 2091.2,2289.1 2095.2,2283.5 2091.2,2277.9" fill="#141414" />
<line x1="1581.4" y1="2283.5" x2="1822.0" y2="2283.5" stroke="#1a1a1a" stroke-width="1.3"/>
<line x1="1879.0" y1="2283.5" x2="2098.0" y2="2283.5" stroke="#1a1a1a" stroke-width="1.3"/>
<text x="1838.0" y="2294.6" font-size="31" fill="#484848" text-anchor="start" textLength="24.0" lengthAdjust="spacingAndGlyphs">L1</text>
<line x1="2106.0" y1="2106.6" x2="2160.0" y2="2106.6" stroke="#1a1a1a" stroke-width="1.3"/>
<line x1="2106.0" y1="2201.5" x2="2160.0" y2="2201.5" stroke="#1a1a1a" stroke-width="1.3"/>
<polygon points="2151.4,2107.4 2157.0,2121.4 2151.4,2117.4 2145.8,2121.4" fill="#141414" />
<polygon points="2151.4,2200.7 2145.8,2186.7 2151.4,2190.7 2157.0,2186.7" fill="#141414" />
<line x1="2151.4" y1="2114.6" x2="2151.4" y2="2132.0" stroke="#1a1a1a" stroke-width="1.3"/>
<line x1="2151.4" y1="2178.0" x2="2151.4" y2="2193.5" stroke="#1a1a1a" stroke-width="1.3"/>
<text x="2144.7" y="2166.5" font-size="31" fill="#484848" text-anchor="start" textLength="14.5" lengthAdjust="spacingAndGlyphs">B</text>
<defs>
<linearGradient id="gCapB" x1="0" y1="0" x2="0.25" y2="1"><stop offset="0" stop-color="#646464"/><stop offset="0.3" stop-color="#8e8e8e"/><stop offset="0.75" stop-color="#848484"/><stop offset="1" stop-color="#666"/></linearGradient>
<linearGradient id="gCapF" x1="0" y1="0" x2="0" y2="1"><stop offset="0" stop-color="#555"/><stop offset="1" stop-color="#767676"/></linearGradient>
<linearGradient id="gWash" x1="0" y1="0" x2="0.3" y2="1"><stop offset="0" stop-color="#4c4c4c"/><stop offset="1" stop-color="#6f6f6f"/></linearGradient>
<linearGradient id="gCap" x1="0" y1="0" x2="1" y2="0.3"><stop offset="0" stop-color="#5a5a5a"/><stop offset="0.5" stop-color="#8a8a8a"/><stop offset="1" stop-color="#6a6a6a"/></linearGradient>
<linearGradient id="gAnvT" x1="0" y1="0" x2="0.3" y2="1"><stop offset="0" stop-color="#8a8a8a"/><stop offset="1" stop-color="#a2a2a2"/></linearGradient>
<linearGradient id="gAnvS" x1="0" y1="0" x2="1" y2="0"><stop offset="0" stop-color="#7a7a7a"/><stop offset="0.5" stop-color="#8c8c8c"/><stop offset="1" stop-color="#5e5e5e"/></linearGradient>
<linearGradient id="gBore" x1="0" y1="0" x2="1" y2="0"><stop offset="0" stop-color="#6c6c6c"/><stop offset="1" stop-color="#9a9a9a"/></linearGradient>
</defs>
<path d="M1260.2,1082.6 L1323.0,1044.4 L1332.9,1061.7 L1271.3,1099.9 Q1258.0,1096.0 1260.2,1082.6 Z" fill="#343434"/>
<line x1="1262.5" y1="1079.9" x2="1275.2" y2="1098.8" stroke="#6a6a6a" stroke-width="1.5"/>
<line x1="1267.8" y1="1076.7" x2="1280.3" y2="1095.6" stroke="#6a6a6a" stroke-width="1.5"/>
<line x1="1273.0" y1="1073.5" x2="1285.4" y2="1092.4" stroke="#6a6a6a" stroke-width="1.5"/>
<line x1="1278.2" y1="1070.3" x2="1290.6" y2="1089.2" stroke="#6a6a6a" stroke-width="1.5"/>
<line x1="1283.5" y1="1067.2" x2="1295.7" y2="1086.1" stroke="#6a6a6a" stroke-width="1.5"/>
<line x1="1288.7" y1="1064.0" x2="1300.8" y2="1082.9" stroke="#6a6a6a" stroke-width="1.5"/>
<line x1="1293.9" y1="1060.8" x2="1306.0" y2="1079.7" stroke="#6a6a6a" stroke-width="1.5"/>
<line x1="1299.2" y1="1057.6" x2="1311.1" y2="1076.5" stroke="#6a6a6a" stroke-width="1.5"/>
<line x1="1304.4" y1="1054.4" x2="1316.2" y2="1073.3" stroke="#6a6a6a" stroke-width="1.5"/>
<line x1="1309.6" y1="1051.2" x2="1321.4" y2="1070.1" stroke="#6a6a6a" stroke-width="1.5"/>
<line x1="1314.9" y1="1048.1" x2="1326.5" y2="1067.0" stroke="#6a6a6a" stroke-width="1.5"/>
<line x1="1320.1" y1="1044.9" x2="1331.6" y2="1063.8" stroke="#6a6a6a" stroke-width="1.5"/>
<polygon points="1322.4,1043.2 1337.2,1021.0 1360.6,1059.2 1333.5,1062.9" fill="#2b2b2b" stroke="#2b2b2b" stroke-width="1.2" stroke-linejoin="round" />
<g transform="translate(0,0)">
<path d="M1522.1,1029.9 L1547,1020.9 Q1556,1019.5 1560.9,1028.5 L1571.1,1074.7 Q1572.5,1081 1568.3,1083 L1542.4,1092.3 Q1536,1093 1531.3,1086.7 Z" fill="url(#gCapB)"/>
<ellipse cx="1527.2" cy="1059.5" rx="8.6" ry="30.5" transform="rotate(-14 1527.2 1059.5)" fill="url(#gCapF)"/>
<polygon points="1512,1049.5 1524,1045 1534,1083.5 1522,1089" fill="#6c6c6c"/>
<line x1="1515.6" y1="1048.2" x2="1525.6" y2="1087.3" stroke="#858585" stroke-width="2"/>
<line x1="1519.4" y1="1046.7" x2="1529.4" y2="1085.6" stroke="#858585" stroke-width="2"/>
<ellipse cx="1510.6" cy="1067.6" rx="10.4" ry="32.3" transform="rotate(-19 1510.6 1067.6)" fill="#8a8a8a"/>
<ellipse cx="1507.8" cy="1068.6" rx="9.8" ry="31.5" transform="rotate(-19 1507.8 1068.6)" fill="url(#gWash)"/>
<path d="M1477.7,1061.8 L1499.9,1053.9 L1508,1088 L1487,1095.5 Q1479,1092 1476,1078 Q1474.5,1066 1477.7,1061.8 Z" fill="#676767"/>
<path d="M1480.8,1060.7 Q1488.9,1078.6 1489.9,1094.5" fill="none" stroke="#8b8b8b" stroke-width="1.7"/>
<path d="M1485.2,1059.1 Q1493.2,1077.0 1494.1,1093.0" fill="none" stroke="#8b8b8b" stroke-width="1.7"/>
<path d="M1489.7,1057.5 Q1497.5,1075.5 1498.3,1091.5" fill="none" stroke="#8b8b8b" stroke-width="1.7"/>
<path d="M1494.1,1056.0 Q1501.8,1074.0 1502.5,1090.0" fill="none" stroke="#8b8b8b" stroke-width="1.7"/>
<path d="M1498.6,1054.4 Q1506.2,1072.4 1506.7,1088.5" fill="none" stroke="#8b8b8b" stroke-width="1.7"/>
<ellipse cx="1480.8" cy="1077.5" rx="5.2" ry="13.5" transform="rotate(-19 1480.8 1077.5)" fill="#5c5c5c"/>
</g>
<line x1="1674.0" y1="1087.1" x2="1738.0" y2="1054.4" stroke="#3c3c3c" stroke-width="5.5"/>
<polygon points="1777.5,1029.5 1794.2,1021.5 1798.0,1026.0 1783.1,1035.3" fill="#f7931e" stroke="#f7931e" stroke-width="3" stroke-linejoin="round"/>
<polygon points="1730.6,1046.4 1769.0,1027.9 1780.1,1030.1 1794.9,1078.2 1755.4,1101.1 1745.4,1097.4" fill="#e8861a" stroke="#e8861a" stroke-width="1.5" stroke-linejoin="round" />
<polygon points="1738.5,1048.0 1776.5,1030.5 1792.5,1078.0 1754.5,1098.5" fill="#f8981f" />
<polygon points="1888.4,1031.0 1890.5,1025.0 1897.0,1022.7 1998.5,1022.7 2005.0,1025.0 2006.7,1031.0 2006.7,1043.0 1964.2,1084.5 1962.4,1095.6 1945.7,1100.4 1943.9,1084.5 1923.6,1075.2 1888.4,1043.0" fill="url(#gAnvS)" stroke="#777" stroke-width="1" stroke-linejoin="round" />
<polygon points="1888.4,1031.0 1890.5,1025.0 1897.0,1022.7 1998.5,1022.7 2005.0,1025.0 2006.7,1031.0 1966.0,1070.0 1952.0,1082.0 1944.0,1081.0 1943.9,1073.0 1925.0,1063.0" fill="url(#gAnvT)" />
<ellipse cx="1947.6" cy="1045.7" rx="26" ry="15" fill="url(#gBore)"/>
<ellipse cx="1947.6" cy="1051.0" rx="18" ry="9" fill="#9c9c9c"/>
<ellipse cx="1947.6" cy="1056.0" rx="13" ry="4.5" fill="#f2f2f2"/>
<polygon points="2219.6,1031.0 2217.5,1025.0 2211.0,1022.7 2109.5,1022.7 2103.0,1025.0 2101.3,1031.0 2101.3,1043.0 2143.8,1084.5 2145.6,1095.6 2162.3,1100.4 2164.1,1084.5 2184.4,1075.2 2219.6,1043.0" fill="url(#gAnvS)" stroke="#777" stroke-width="1" stroke-linejoin="round" />
<polygon points="2219.6,1031.0 2217.5,1025.0 2211.0,1022.7 2109.5,1022.7 2103.0,1025.0 2101.3,1031.0 2142.0,1070.0 2156.0,1082.0 2164.0,1081.0 2164.1,1073.0 2183.0,1063.0" fill="url(#gAnvT)" />
<ellipse cx="2160.4" cy="1045.7" rx="26" ry="15" fill="url(#gBore)"/>
<ellipse cx="2160.4" cy="1051.0" rx="18" ry="9" fill="#9c9c9c"/>
<ellipse cx="2160.4" cy="1056.0" rx="13" ry="4.5" fill="#f2f2f2"/>
<path d="M1260.2,2603.6 L1323.0,2565.4 L1332.9,2582.7 L1271.3,2620.9 Q1258.0,2617.0 1260.2,2603.6 Z" fill="#343434"/>
<line x1="1262.5" y1="2600.9" x2="1275.2" y2="2619.8" stroke="#6a6a6a" stroke-width="1.5"/>
<line x1="1267.8" y1="2597.7" x2="1280.3" y2="2616.6" stroke="#6a6a6a" stroke-width="1.5"/>
<line x1="1273.0" y1="2594.5" x2="1285.4" y2="2613.4" stroke="#6a6a6a" stroke-width="1.5"/>
<line x1="1278.2" y1="2591.3" x2="1290.6" y2="2610.2" stroke="#6a6a6a" stroke-width="1.5"/>
<line x1="1283.5" y1="2588.2" x2="1295.7" y2="2607.1" stroke="#6a6a6a" stroke-width="1.5"/>
<line x1="1288.7" y1="2585.0" x2="1300.8" y2="2603.9" stroke="#6a6a6a" stroke-width="1.5"/>
<line x1="1293.9" y1="2581.8" x2="1306.0" y2="2600.7" stroke="#6a6a6a" stroke-width="1.5"/>
<line x1="1299.2" y1="2578.6" x2="1311.1" y2="2597.5" stroke="#6a6a6a" stroke-width="1.5"/>
<line x1="1304.4" y1="2575.4" x2="1316.2" y2="2594.3" stroke="#6a6a6a" stroke-width="1.5"/>
<line x1="1309.6" y1="2572.2" x2="1321.4" y2="2591.1" stroke="#6a6a6a" stroke-width="1.5"/>
<line x1="1314.9" y1="2569.1" x2="1326.5" y2="2588.0" stroke="#6a6a6a" stroke-width="1.5"/>
<line x1="1320.1" y1="2565.9" x2="1331.6" y2="2584.8" stroke="#6a6a6a" stroke-width="1.5"/>
<polygon points="1322.4,2564.2 1337.2,2542.0 1360.6,2580.2 1333.5,2583.9" fill="#2b2b2b" stroke="#2b2b2b" stroke-width="1.2" stroke-linejoin="round" />
<g transform="translate(0,1521)">
<path d="M1522.1,1029.9 L1547,1020.9 Q1556,1019.5 1560.9,1028.5 L1571.1,1074.7 Q1572.5,1081 1568.3,1083 L1542.4,1092.3 Q1536,1093 1531.3,1086.7 Z" fill="url(#gCapB)"/>
<ellipse cx="1527.2" cy="1059.5" rx="8.6" ry="30.5" transform="rotate(-14 1527.2 1059.5)" fill="url(#gCapF)"/>
<polygon points="1512,1049.5 1524,1045 1534,1083.5 1522,1089" fill="#6c6c6c"/>
<line x1="1515.6" y1="1048.2" x2="1525.6" y2="1087.3" stroke="#858585" stroke-width="2"/>
<line x1="1519.4" y1="1046.7" x2="1529.4" y2="1085.6" stroke="#858585" stroke-width="2"/>
<ellipse cx="1510.6" cy="1067.6" rx="10.4" ry="32.3" transform="rotate(-19 1510.6 1067.6)" fill="#8a8a8a"/>
<ellipse cx="1507.8" cy="1068.6" rx="9.8" ry="31.5" transform="rotate(-19 1507.8 1068.6)" fill="url(#gWash)"/>
<path d="M1477.7,1061.8 L1499.9,1053.9 L1508,1088 L1487,1095.5 Q1479,1092 1476,1078 Q1474.5,1066 1477.7,1061.8 Z" fill="#676767"/>
<path d="M1480.8,1060.7 Q1488.9,1078.6 1489.9,1094.5" fill="none" stroke="#8b8b8b" stroke-width="1.7"/>
<path d="M1485.2,1059.1 Q1493.2,1077.0 1494.1,1093.0" fill="none" stroke="#8b8b8b" stroke-width="1.7"/>
<path d="M1489.7,1057.5 Q1497.5,1075.5 1498.3,1091.5" fill="none" stroke="#8b8b8b" stroke-width="1.7"/>
<path d="M1494.1,1056.0 Q1501.8,1074.0 1502.5,1090.0" fill="none" stroke="#8b8b8b" stroke-width="1.7"/>
<path d="M1498.6,1054.4 Q1506.2,1072.4 1506.7,1088.5" fill="none" stroke="#8b8b8b" stroke-width="1.7"/>
<ellipse cx="1480.8" cy="1077.5" rx="5.2" ry="13.5" transform="rotate(-19 1480.8 1077.5)" fill="#5c5c5c"/>
</g>
<line x1="1674.0" y1="2608.1" x2="1738.0" y2="2575.4" stroke="#3c3c3c" stroke-width="5.5"/>
<polygon points="1777.5,2550.5 1794.2,2542.5 1798.0,2547.0 1783.1,2556.3" fill="#f7931e" stroke="#f7931e" stroke-width="3" stroke-linejoin="round"/>
<polygon points="1730.6,2567.4 1769.0,2548.9 1780.1,2551.1 1794.9,2599.2 1755.4,2622.1 1745.4,2618.4" fill="#e8861a" stroke="#e8861a" stroke-width="1.5" stroke-linejoin="round" />
<polygon points="1738.5,2569.0 1776.5,2551.5 1792.5,2599.0 1754.5,2619.5" fill="#f8981f" />
<polygon points="1888.4,2552.0 1890.5,2546.0 1897.0,2543.7 1998.5,2543.7 2005.0,2546.0 2006.7,2552.0 2006.7,2564.0 1964.2,2605.5 1962.4,2616.6 1945.7,2621.4 1943.9,2605.5 1923.6,2596.2 1888.4,2564.0" fill="url(#gAnvS)" stroke="#777" stroke-width="1" stroke-linejoin="round" />
<polygon points="1888.4,2552.0 1890.5,2546.0 1897.0,2543.7 1998.5,2543.7 2005.0,2546.0 2006.7,2552.0 1966.0,2591.0 1952.0,2603.0 1944.0,2602.0 1943.9,2594.0 1925.0,2584.0" fill="url(#gAnvT)" />
<ellipse cx="1947.6" cy="2566.7" rx="26" ry="15" fill="url(#gBore)"/>
<ellipse cx="1947.6" cy="2572.0" rx="18" ry="9" fill="#9c9c9c"/>
<ellipse cx="1947.6" cy="2577.0" rx="13" ry="4.5" fill="#f2f2f2"/>
<polygon points="2219.6,2552.0 2217.5,2546.0 2211.0,2543.7 2109.5,2543.7 2103.0,2546.0 2101.3,2552.0 2101.3,2564.0 2143.8,2605.5 2145.6,2616.6 2162.3,2621.4 2164.1,2605.5 2184.4,2596.2 2219.6,2564.0" fill="url(#gAnvS)" stroke="#777" stroke-width="1" stroke-linejoin="round" />
<polygon points="2219.6,2552.0 2217.5,2546.0 2211.0,2543.7 2109.5,2543.7 2103.0,2546.0 2101.3,2552.0 2142.0,2591.0 2156.0,2603.0 2164.0,2602.0 2164.1,2594.0 2183.0,2584.0" fill="url(#gAnvT)" />
<ellipse cx="2160.4" cy="2566.7" rx="26" ry="15" fill="url(#gBore)"/>
<ellipse cx="2160.4" cy="2572.0" rx="18" ry="9" fill="#9c9c9c"/>
<ellipse cx="2160.4" cy="2577.0" rx="13" ry="4.5" fill="#f2f2f2"/>
<path d="M349.7,3336.9 L368,3360.3 Q369.6,3362.3 371.2,3360.3 L386.2,3336.9" fill="none" stroke="#e21e26" stroke-width="5.5" stroke-linecap="round" stroke-linejoin="round"/>
<path d="M382.2,3361.3 L399.4,3337.9 Q401,3335.9 402.6,3337.9 L419.7,3361.3" fill="none" stroke="#e21e26" stroke-width="5.5" stroke-linecap="round" stroke-linejoin="round"/>
<polygon points="397,3357.5 401.3,3348.5 405.8,3357.5" fill="#7c7c7c"/>
<path d="M429.6,3361.3 L429.6,3345 M427.5,3336.9 L455,3336.9 Q464.5,3336.9 464.5,3344.6 Q464.5,3352.6 455,3352.6 L433,3352.6 M447,3352.6 L468,3361.3" fill="none" stroke="#e21e26" stroke-width="5.5" stroke-linecap="round" stroke-linejoin="round"/>
<path d="M476.9,3336.9 L502,3336.9 Q515.3,3336.9 515.3,3349.0 Q515.3,3361.3 502,3361.3 L476.9,3361.3 Z" fill="none" stroke="#e21e26" stroke-width="5.5" stroke-linecap="round" stroke-linejoin="round"/>
<path d="M569.5,3336.9 L538,3336.9 Q529,3336.9 529,3349.0 Q529,3361.3 538,3361.3 L569.5,3361.3 M539,3349.0 L556.7,3349.0" fill="none" stroke="#e21e26" stroke-width="5.5" stroke-linecap="round" stroke-linejoin="round"/>
<path d="M579.4,3336.9 L618.8,3361.3 M618.8,3336.9 L579.4,3361.3" fill="none" stroke="#e21e26" stroke-width="5.5" stroke-linecap="round" stroke-linejoin="round"/>
</svg>
<div class="t" style="left:191.0px;top:947.5px;font-size:49px;color:#1d1d1d;font-weight:bold;transform:scaleX(1.0851);">Off-Set Qualified (FQ)</div>
<div class="t" style="left:1217.5px;top:959.7px;font-size:37px;color:#454545;transform:scaleX(1.1568);">Spare Parts</div>
<div class="r" style="left:177.0px;top:1005.3px;width:1027.5px;height:112.1px;background:#b3b5c6;"></div>
<div class="r" style="left:177.0px;top:1117.4px;width:2090.0px;height:56.5px;background:#e3e4e6;"></div>
<div class="r" style="left:331.0px;top:1173.9px;width:236.0px;height:56.6px;background:#dcd3d8;"></div>
<div class="r" style="left:331.0px;top:1230.6px;width:236.0px;height:56.6px;background:#c3b8c3;"></div>
<div class="r" style="left:567.0px;top:1230.6px;width:637.5px;height:56.6px;background:#e3e4e6;"></div>
<div class="r" style="left:331.0px;top:1287.2px;width:236.0px;height:56.6px;background:#dcd3d8;"></div>
<div class="r" style="left:331.0px;top:1343.9px;width:236.0px;height:56.6px;background:#c3b8c3;"></div>
<div class="r" style="left:567.0px;top:1343.9px;width:637.5px;height:56.6px;background:#e3e4e6;"></div>
<div class="r" style="left:331.0px;top:1400.5px;width:236.0px;height:56.6px;background:#dcd3d8;"></div>
<div class="r" style="left:331.0px;top:1457.2px;width:236.0px;height:56.6px;background:#c3b8c3;"></div>
<div class="r" style="left:567.0px;top:1457.2px;width:637.5px;height:56.6px;background:#e3e4e6;"></div>
<div class="r" style="left:1204.5px;top:1173.9px;width:1062.5px;height:339.9px;background:#fdfdee;"></div>
<div class="r" style="left:177.0px;top:1002.6px;width:2090.0px;height:3.0px;background:#2a2a2a;"></div>
<div class="r" style="left:177.0px;top:1116.7px;width:2090.0px;height:1.5px;background:#3a3a3a;"></div>
<div class="r" style="left:177.0px;top:1173.2px;width:2090.0px;height:1.5px;background:#3a3a3a;"></div>
<div class="r" style="left:331.0px;top:1229.8px;width:873.5px;height:1.5px;background:#383838;"></div>
<div class="r" style="left:331.0px;top:1286.5px;width:873.5px;height:1.5px;background:#383838;"></div>
<div class="r" style="left:177.0px;top:1343.1px;width:1027.5px;height:1.5px;background:#383838;"></div>
<div class="r" style="left:1204.5px;top:1343.1px;width:1062.5px;height:1.5px;background:#6a6a6a;"></div>
<div class="r" style="left:331.0px;top:1399.8px;width:873.5px;height:1.5px;background:#383838;"></div>
<div class="r" style="left:177.0px;top:1456.4px;width:1027.5px;height:1.5px;background:#383838;"></div>
<div class="r" style="left:1204.5px;top:1456.4px;width:1062.5px;height:1.5px;background:#6a6a6a;"></div>
<div class="r" style="left:177.0px;top:1513.1px;width:1027.5px;height:1.5px;background:#383838;"></div>
<div class="r" style="left:1204.5px;top:1513.1px;width:1062.5px;height:1.5px;background:#6a6a6a;"></div>
<div class="r" style="left:1203.8px;top:945.0px;width:1.5px;height:568.8px;background:#3a3a3a;"></div>
<div class="t" style="left:185.0px;top:1045.9px;font-size:33px;color:#414141;transform:scaleX(0.8756);">Insert Size</div>
<div class="t" style="left:347.5px;top:1045.9px;font-size:33px;color:#414141;transform:scaleX(0.9309);">Ordering Code</div>
<div class="t" style="left:774.7px;top:1045.9px;font-size:33px;color:#414141;transform:scaleX(0.9368);">Dimensions mm</div>
<div class="t" style="left:238.7px;top:1130.5px;font-size:33px;color:#262626;transform:scaleX(0.9000);">IC</div>
<div class="t" style="left:403.9px;top:1130.5px;font-size:33px;color:#262626;transform:scaleX(0.9000);">RH/LH</div>
<div class="t" style="left:589.7px;top:1130.5px;font-size:33px;color:#262626;transform:scaleX(0.9000);">H=H1=B</div>
<div class="t" style="left:797.0px;top:1130.5px;font-size:33px;color:#262626;transform:scaleX(0.9000);">F</div>
<div class="t" style="left:948.9px;top:1130.5px;font-size:33px;color:#262626;transform:scaleX(0.9000);">L1</div>
<div class="t" style="left:1108.3px;top:1130.5px;font-size:33px;color:#262626;transform:scaleX(0.9000);">L2</div>
<div class="t" style="left:1227.9px;top:1130.5px;font-size:33px;color:#414141;transform:scaleX(0.9036);">Insert Screw</div>
<div class="t" style="left:1446.0px;top:1130.5px;font-size:33px;color:#414141;transform:scaleX(0.8968);">Anvil Screw</div>
<div class="t" style="left:1679.5px;top:1130.5px;font-size:33px;color:#414141;transform:scaleX(0.8756);">Torx Key</div>
<div class="t" style="left:1892.4px;top:1130.5px;font-size:33px;color:#414141;transform:scaleX(0.8702);">Anvil RH</div>
<div class="t" style="left:2106.2px;top:1130.5px;font-size:33px;color:#414141;transform:scaleX(0.8887);">Anvil LH</div>
<div class="t" style="left:383.5px;top:1187.8px;font-size:33px;color:#414141;transform:scaleX(0.8600);">AL20-3FQ</div>
<div class="t" style="left:630.9px;top:1187.8px;font-size:33px;color:#414141;transform:scaleX(0.8600);">20</div>
<div class="t" style="left:790.3px;top:1187.8px;font-size:33px;color:#414141;transform:scaleX(0.8600);">25</div>
<div class="t" style="left:941.8px;top:1187.8px;font-size:33px;color:#414141;transform:scaleX(0.8600);">125</div>
<div class="t" style="left:1109.0px;top:1187.8px;font-size:33px;color:#414141;transform:scaleX(0.8600);">25</div>
<div class="t" style="left:383.5px;top:1244.4px;font-size:33px;color:#414141;transform:scaleX(0.8600);">AL25-3FQ</div>
<div class="t" style="left:630.9px;top:1244.4px;font-size:33px;color:#414141;transform:scaleX(0.8600);">25</div>
<div class="t" style="left:790.3px;top:1244.4px;font-size:33px;color:#414141;transform:scaleX(0.8600);">32</div>
<div class="t" style="left:941.8px;top:1244.4px;font-size:33px;color:#414141;transform:scaleX(0.8600);">150</div>
<div class="t" style="left:1109.0px;top:1244.4px;font-size:33px;color:#414141;transform:scaleX(0.8600);">25</div>
<div class="t" style="left:383.5px;top:1301.1px;font-size:33px;color:#414141;transform:scaleX(0.8600);">AL32-3FQ</div>
<div class="t" style="left:630.9px;top:1301.1px;font-size:33px;color:#414141;transform:scaleX(0.8600);">32</div>
<div class="t" style="left:790.3px;top:1301.1px;font-size:33px;color:#414141;transform:scaleX(0.8600);">40</div>
<div class="t" style="left:941.8px;top:1301.1px;font-size:33px;color:#414141;transform:scaleX(0.8600);">170</div>
<div class="t" style="left:1109.0px;top:1301.1px;font-size:33px;color:#414141;transform:scaleX(0.8600);">32</div>
<div class="t" style="left:383.5px;top:1357.7px;font-size:33px;color:#414141;transform:scaleX(0.8600);">AL25-4FQ</div>
<div class="t" style="left:630.9px;top:1357.7px;font-size:33px;color:#414141;transform:scaleX(0.8600);">25</div>
<div class="t" style="left:790.3px;top:1357.7px;font-size:33px;color:#414141;transform:scaleX(0.8600);">32</div>
<div class="t" style="left:941.8px;top:1357.7px;font-size:33px;color:#414141;transform:scaleX(0.8600);">150</div>
<div class="t" style="left:1109.0px;top:1357.7px;font-size:33px;color:#414141;transform:scaleX(0.8600);">30</div>
<div class="t" style="left:383.5px;top:1414.4px;font-size:33px;color:#414141;transform:scaleX(0.8600);">AL32-4FQ</div>
<div class="t" style="left:630.9px;top:1414.4px;font-size:33px;color:#414141;transform:scaleX(0.8600);">32</div>
<div class="t" style="left:790.3px;top:1414.4px;font-size:33px;color:#414141;transform:scaleX(0.8600);">40</div>
<div class="t" style="left:941.8px;top:1414.4px;font-size:33px;color:#414141;transform:scaleX(0.8600);">170</div>
<div class="t" style="left:1109.0px;top:1414.4px;font-size:33px;color:#414141;transform:scaleX(0.8600);">30</div>
<div class="t" style="left:383.5px;top:1471.0px;font-size:33px;color:#414141;transform:scaleX(0.8600);">AL32-5FQ</div>
<div class="t" style="left:630.9px;top:1471.0px;font-size:33px;color:#414141;transform:scaleX(0.8600);">32</div>
<div class="t" style="left:790.3px;top:1471.0px;font-size:33px;color:#414141;transform:scaleX(0.8600);">40</div>
<div class="t" style="left:941.8px;top:1471.0px;font-size:33px;color:#414141;transform:scaleX(0.8600);">170</div>
<div class="t" style="left:1109.0px;top:1471.0px;font-size:33px;color:#414141;transform:scaleX(0.8600);">35</div>
<div class="t" style="left:226.9px;top:1244.4px;font-size:33px;color:#414141;transform:scaleX(0.9400);">3/8″</div>
<div class="t" style="left:1275.5px;top:1244.4px;font-size:33px;color:#414141;transform:scaleX(0.8600);">SA3T</div>
<div class="t" style="left:1487.5px;top:1244.4px;font-size:33px;color:#414141;transform:scaleX(0.8600);">SY3T</div>
<div class="t" style="left:1710.0px;top:1244.4px;font-size:33px;color:#414141;transform:scaleX(0.8600);">K3T</div>
<div class="t" style="left:1921.2px;top:1244.4px;font-size:33px;color:#414141;transform:scaleX(0.8600);">YE3</div>
<div class="t" style="left:2138.7px;top:1244.4px;font-size:33px;color:#414141;transform:scaleX(0.8600);">YI3</div>
<div class="t" style="left:226.9px;top:1386.1px;font-size:33px;color:#414141;transform:scaleX(0.9400);">1/2″</div>
<div class="t" style="left:1275.5px;top:1386.1px;font-size:33px;color:#414141;transform:scaleX(0.8600);">SA4T</div>
<div class="t" style="left:1487.5px;top:1386.1px;font-size:33px;color:#414141;transform:scaleX(0.8600);">SY4T</div>
<div class="t" style="left:1710.0px;top:1386.1px;font-size:33px;color:#414141;transform:scaleX(0.8600);">K4T</div>
<div class="t" style="left:1921.2px;top:1386.1px;font-size:33px;color:#414141;transform:scaleX(0.8600);">YE4</div>
<div class="t" style="left:2138.7px;top:1386.1px;font-size:33px;color:#414141;transform:scaleX(0.8600);">YI4</div>
<div class="t" style="left:226.9px;top:1471.0px;font-size:33px;color:#414141;transform:scaleX(0.9400);">5/8″</div>
<div class="t" style="left:1275.5px;top:1471.0px;font-size:33px;color:#414141;transform:scaleX(0.8600);">SA5T</div>
<div class="t" style="left:1487.5px;top:1471.0px;font-size:33px;color:#414141;transform:scaleX(0.8600);">SY5T</div>
<div class="t" style="left:1710.0px;top:1471.0px;font-size:33px;color:#414141;transform:scaleX(0.8600);">K5T</div>
<div class="t" style="left:1921.2px;top:1471.0px;font-size:33px;color:#414141;transform:scaleX(0.8600);">YE5</div>
<div class="t" style="left:2138.7px;top:1471.0px;font-size:33px;color:#414141;transform:scaleX(0.8600);">YI5</div>
<div class="t" style="left:191.0px;top:2468.5px;font-size:49px;color:#1d1d1d;font-weight:bold;transform:scaleX(1.1032);">Drop Head-Qualified (CQ)</div>
<div class="t" style="left:1217.5px;top:2480.7px;font-size:37px;color:#454545;transform:scaleX(1.1568);">Spare Parts</div>
<div class="r" style="left:177.0px;top:2526.3px;width:1027.5px;height:112.1px;background:#b3b5c6;"></div>
<div class="r" style="left:177.0px;top:2638.4px;width:2090.0px;height:56.5px;background:#e3e4e6;"></div>
<div class="r" style="left:331.0px;top:2694.9px;width:236.0px;height:56.6px;background:#dcd3d8;"></div>
<div class="r" style="left:331.0px;top:2751.6px;width:236.0px;height:56.6px;background:#c3b8c3;"></div>
<div class="r" style="left:567.0px;top:2751.6px;width:637.5px;height:56.6px;background:#e3e4e6;"></div>
<div class="r" style="left:331.0px;top:2808.2px;width:236.0px;height:56.6px;background:#dcd3d8;"></div>
<div class="r" style="left:331.0px;top:2864.8px;width:236.0px;height:56.6px;background:#c3b8c3;"></div>
<div class="r" style="left:567.0px;top:2864.8px;width:637.5px;height:56.6px;background:#e3e4e6;"></div>
<div class="r" style="left:331.0px;top:2921.5px;width:236.0px;height:56.6px;background:#dcd3d8;"></div>
<div class="r" style="left:331.0px;top:2978.2px;width:236.0px;height:56.6px;background:#c3b8c3;"></div>
<div class="r" style="left:567.0px;top:2978.2px;width:637.5px;height:56.6px;background:#e3e4e6;"></div>
<div class="r" style="left:177.0px;top:2864.8px;width:154.0px;height:113.3px;background:#e3e4e6;"></div>
<div class="r" style="left:1204.5px;top:2694.9px;width:1062.5px;height:339.9px;background:#fdfdee;"></div>
<div class="r" style="left:177.0px;top:2523.6px;width:2090.0px;height:3.0px;background:#2a2a2a;"></div>
<div class="r" style="left:177.0px;top:2637.7px;width:2090.0px;height:1.5px;background:#3a3a3a;"></div>
<div class="r" style="left:177.0px;top:2694.2px;width:2090.0px;height:1.5px;background:#3a3a3a;"></div>
<div class="r" style="left:331.0px;top:2750.8px;width:873.5px;height:1.5px;background:#383838;"></div>
<div class="r" style="left:331.0px;top:2807.5px;width:873.5px;height:1.5px;background:#383838;"></div>
<div class="r" style="left:177.0px;top:2864.1px;width:1027.5px;height:1.5px;background:#383838;"></div>
<div class="r" style="left:1204.5px;top:2864.1px;width:1062.5px;height:1.5px;background:#6a6a6a;"></div>
<div class="r" style="left:331.0px;top:2920.8px;width:873.5px;height:1.5px;background:#383838;"></div>
<div class="r" style="left:177.0px;top:2977.4px;width:1027.5px;height:1.5px;background:#383838;"></div>
<div class="r" style="left:1204.5px;top:2977.4px;width:1062.5px;height:1.5px;background:#6a6a6a;"></div>
<div class="r" style="left:177.0px;top:3034.1px;width:1027.5px;height:1.5px;background:#383838;"></div>
<div class="r" style="left:1204.5px;top:3034.1px;width:1062.5px;height:1.5px;background:#6a6a6a;"></div>
<div class="r" style="left:1203.8px;top:2466.0px;width:1.5px;height:568.8px;background:#3a3a3a;"></div>
<div class="t" style="left:185.0px;top:2566.9px;font-size:33px;color:#414141;transform:scaleX(0.8756);">Insert Size</div>
<div class="t" style="left:347.5px;top:2566.9px;font-size:33px;color:#414141;transform:scaleX(0.9309);">Ordering Code</div>
<div class="t" style="left:774.7px;top:2566.9px;font-size:33px;color:#414141;transform:scaleX(0.9368);">Dimensions mm</div>
<div class="t" style="left:238.7px;top:2651.5px;font-size:33px;color:#262626;transform:scaleX(0.9000);">IC</div>
<div class="t" style="left:403.9px;top:2651.5px;font-size:33px;color:#262626;transform:scaleX(0.9000);">RH/LH</div>
<div class="t" style="left:590.8px;top:2651.5px;font-size:33px;color:#262626;transform:scaleX(0.9000);">H=B</div>
<div class="t" style="left:717.3px;top:2651.5px;font-size:33px;color:#262626;transform:scaleX(0.9000);">F</div>
<div class="t" style="left:816.1px;top:2651.5px;font-size:33px;color:#262626;transform:scaleX(0.9000);">L1</div>
<div class="t" style="left:922.4px;top:2651.5px;font-size:33px;color:#262626;transform:scaleX(0.9000);">L2</div>
<div class="t" style="left:1028.6px;top:2651.5px;font-size:33px;color:#262626;transform:scaleX(0.9000);">L3</div>
<div class="t" style="left:1132.4px;top:2651.5px;font-size:33px;color:#262626;transform:scaleX(0.9000);">H1</div>
<div class="t" style="left:1240.0px;top:2651.5px;font-size:33px;color:#414141;transform:scaleX(0.7716);">Insert Screw</div>
<div class="t" style="left:1456.8px;top:2651.5px;font-size:33px;color:#414141;transform:scaleX(0.7715);">Anvil Screw</div>
<div class="t" style="left:1687.2px;top:2651.5px;font-size:33px;color:#414141;transform:scaleX(0.7556);">Torx Key</div>
<div class="t" style="left:1900.2px;top:2651.5px;font-size:33px;color:#414141;transform:scaleX(0.7479);">Anvil RH</div>
<div class="t" style="left:2113.8px;top:2651.5px;font-size:33px;color:#414141;transform:scaleX(0.7650);">Anvil LH</div>
<div class="t" style="left:382.0px;top:2708.8px;font-size:33px;color:#414141;transform:scaleX(0.8600);">AL20-3CQ</div>
<div class="t" style="left:604.3px;top:2708.8px;font-size:33px;color:#414141;transform:scaleX(0.8600);">20</div>
<div class="t" style="left:710.6px;top:2708.8px;font-size:33px;color:#414141;transform:scaleX(0.8600);">25</div>
<div class="t" style="left:808.9px;top:2708.8px;font-size:33px;color:#414141;transform:scaleX(0.8600);">125</div>
<div class="t" style="left:923.1px;top:2708.8px;font-size:33px;color:#414141;transform:scaleX(0.8600);">24</div>
<div class="t" style="left:1029.3px;top:2708.8px;font-size:33px;color:#414141;transform:scaleX(0.8600);">38</div>
<div class="t" style="left:1123.8px;top:2708.8px;font-size:33px;color:#414141;transform:scaleX(0.8600);">17.5</div>
<div class="t" style="left:382.0px;top:2765.4px;font-size:33px;color:#414141;transform:scaleX(0.8600);">AL25-3CQ</div>
<div class="t" style="left:604.3px;top:2765.4px;font-size:33px;color:#414141;transform:scaleX(0.8600);">25</div>
<div class="t" style="left:710.6px;top:2765.4px;font-size:33px;color:#414141;transform:scaleX(0.8600);">32</div>
<div class="t" style="left:808.9px;top:2765.4px;font-size:33px;color:#414141;transform:scaleX(0.8600);">150</div>
<div class="t" style="left:923.1px;top:2765.4px;font-size:33px;color:#414141;transform:scaleX(0.8600);">24</div>
<div class="t" style="left:1029.3px;top:2765.4px;font-size:33px;color:#414141;transform:scaleX(0.8600);">38</div>
<div class="t" style="left:1123.8px;top:2765.4px;font-size:33px;color:#414141;transform:scaleX(0.8600);">22.2</div>
<div class="t" style="left:382.0px;top:2822.1px;font-size:33px;color:#414141;transform:scaleX(0.8600);">AL32-3CQ</div>
<div class="t" style="left:604.3px;top:2822.1px;font-size:33px;color:#414141;transform:scaleX(0.8600);">32</div>
<div class="t" style="left:710.6px;top:2822.1px;font-size:33px;color:#414141;transform:scaleX(0.8600);">40</div>
<div class="t" style="left:808.9px;top:2822.1px;font-size:33px;color:#414141;transform:scaleX(0.8600);">170</div>
<div class="t" style="left:923.1px;top:2822.1px;font-size:33px;color:#414141;transform:scaleX(0.8600);">24</div>
<div class="t" style="left:1029.3px;top:2822.1px;font-size:33px;color:#414141;transform:scaleX(0.8600);">38</div>
<div class="t" style="left:1123.8px;top:2822.1px;font-size:33px;color:#414141;transform:scaleX(0.8600);">22.2</div>
<div class="t" style="left:382.0px;top:2878.7px;font-size:33px;color:#414141;transform:scaleX(0.8600);">AL25-4CQ</div>
<div class="t" style="left:604.3px;top:2878.7px;font-size:33px;color:#414141;transform:scaleX(0.8600);">25</div>
<div class="t" style="left:710.6px;top:2878.7px;font-size:33px;color:#414141;transform:scaleX(0.8600);">32</div>
<div class="t" style="left:808.9px;top:2878.7px;font-size:33px;color:#414141;transform:scaleX(0.8600);">150</div>
<div class="t" style="left:923.1px;top:2878.7px;font-size:33px;color:#414141;transform:scaleX(0.8600);">30</div>
<div class="t" style="left:1029.3px;top:2878.7px;font-size:33px;color:#414141;transform:scaleX(0.8600);">38</div>
<div class="t" style="left:1123.8px;top:2878.7px;font-size:33px;color:#414141;transform:scaleX(0.8600);">22.2</div>
<div class="t" style="left:382.0px;top:2935.4px;font-size:33px;color:#414141;transform:scaleX(0.8600);">AL32-4CQ</div>
<div class="t" style="left:604.3px;top:2935.4px;font-size:33px;color:#414141;transform:scaleX(0.8600);">32</div>
<div class="t" style="left:710.6px;top:2935.4px;font-size:33px;color:#414141;transform:scaleX(0.8600);">40</div>
<div class="t" style="left:808.9px;top:2935.4px;font-size:33px;color:#414141;transform:scaleX(0.8600);">170</div>
<div class="t" style="left:923.1px;top:2935.4px;font-size:33px;color:#414141;transform:scaleX(0.8600);">30</div>
<div class="t" style="left:1029.3px;top:2935.4px;font-size:33px;color:#414141;transform:scaleX(0.8600);">38</div>
<div class="t" style="left:1123.8px;top:2935.4px;font-size:33px;color:#414141;transform:scaleX(0.8600);">22.2</div>
<div class="t" style="left:382.0px;top:2992.0px;font-size:33px;color:#414141;transform:scaleX(0.8600);">AL32-5CQ</div>
<div class="t" style="left:604.3px;top:2992.0px;font-size:33px;color:#414141;transform:scaleX(0.8600);">32</div>
<div class="t" style="left:710.6px;top:2992.0px;font-size:33px;color:#414141;transform:scaleX(0.8600);">40</div>
<div class="t" style="left:808.9px;top:2992.0px;font-size:33px;color:#414141;transform:scaleX(0.8600);">170</div>
<div class="t" style="left:923.1px;top:2992.0px;font-size:33px;color:#414141;transform:scaleX(0.8600);">33</div>
<div class="t" style="left:1029.3px;top:2992.0px;font-size:33px;color:#414141;transform:scaleX(0.8600);">43</div>
<div class="t" style="left:1123.8px;top:2992.0px;font-size:33px;color:#414141;transform:scaleX(0.8600);">25.4</div>
<div class="t" style="left:232.9px;top:2765.4px;font-size:33px;color:#414141;transform:scaleX(0.9400);">3/8″</div>
<div class="t" style="left:1281.0px;top:2765.4px;font-size:33px;color:#414141;transform:scaleX(0.8600);">SA3T</div>
<div class="t" style="left:1493.0px;top:2765.4px;font-size:33px;color:#414141;transform:scaleX(0.8600);">SY3T</div>
<div class="t" style="left:1707.5px;top:2765.4px;font-size:33px;color:#414141;transform:scaleX(0.8600);">K3T</div>
<div class="t" style="left:1919.2px;top:2765.4px;font-size:33px;color:#414141;transform:scaleX(0.8600);">YE3</div>
<div class="t" style="left:2131.7px;top:2765.4px;font-size:33px;color:#414141;transform:scaleX(0.8600);">YI3</div>
<div class="t" style="left:232.9px;top:2907.1px;font-size:33px;color:#414141;transform:scaleX(0.9400);">1/2″</div>
<div class="t" style="left:1281.0px;top:2907.1px;font-size:33px;color:#414141;transform:scaleX(0.8600);">SA4T</div>
<div class="t" style="left:1493.0px;top:2907.1px;font-size:33px;color:#414141;transform:scaleX(0.8600);">SY4T</div>
<div class="t" style="left:1707.5px;top:2907.1px;font-size:33px;color:#414141;transform:scaleX(0.8600);">K4T</div>
<div class="t" style="left:1919.2px;top:2907.1px;font-size:33px;color:#414141;transform:scaleX(0.8600);">YE4</div>
<div class="t" style="left:2131.7px;top:2907.1px;font-size:33px;color:#414141;transform:scaleX(0.8600);">YI4</div>
<div class="t" style="left:232.9px;top:2992.0px;font-size:33px;color:#414141;transform:scaleX(0.9400);">5/8″</div>
<div class="t" style="left:1281.0px;top:2992.0px;font-size:33px;color:#414141;transform:scaleX(0.8600);">SA5T</div>
<div class="t" style="left:1493.0px;top:2992.0px;font-size:33px;color:#414141;transform:scaleX(0.8600);">SY5T</div>
<div class="t" style="left:1707.5px;top:2992.0px;font-size:33px;color:#414141;transform:scaleX(0.8600);">K5T</div>
<div class="t" style="left:1919.2px;top:2992.0px;font-size:33px;color:#414141;transform:scaleX(0.8600);">YE5</div>
<div class="t" style="left:2131.7px;top:2992.0px;font-size:33px;color:#414141;transform:scaleX(0.8600);">YI5</div>
<div class="r" style="left:176.0px;top:3172.5px;width:18.5px;height:94.5px;background:#d5171f;"></div>
<div class="r" style="left:205.5px;top:3172.5px;width:2061.5px;height:94.5px;background:#e3e4e5;"></div>
<div class="t" style="left:230.0px;top:3188.3px;font-size:31px;color:#454545;transform:scaleX(0.8584);">The above toolholders have a 1.5° helix angle. For other helix angles see page 203.</div>
<div class="t" style="left:230.0px;top:3222.2px;font-size:31px;color:#454545;transform:scaleX(0.8600);">The above toolholders are for RH inserts. For LH inserts, add LH to the toolholder’s ordering code (Example AL20-3FQ<b style="color:#111">LH</b>).</div>
<div class="r" style="left:177.7px;top:3326.0px;width:1.6px;height:53.0px;background:#555;"></div>
<div class="t" style="left:224.5px;top:3334.8px;font-size:34px;color:#1a1a1a;font-weight:bold;transform:scaleX(1.0312);">166</div>
<div class="r" style="left:326.2px;top:3326.0px;width:1.6px;height:53.0px;background:#555;"></div>
<div class="r" style="left:662.0px;top:3350.3px;width:1818.0px;height:1.3px;background:#8a8a8a;"></div>
</div></body></html>
